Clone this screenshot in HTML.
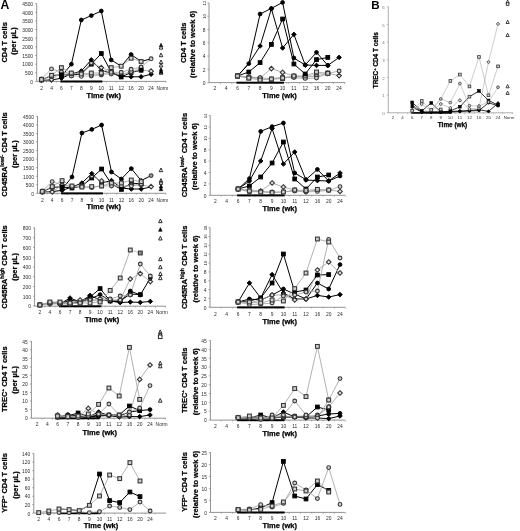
<!DOCTYPE html>
<html lang="en"><head><meta charset="utf-8"><title>Figure</title>
<style>
html,body{margin:0;padding:0;background:#fff;}
body{width:520px;height:531px;overflow:hidden;font-family:"Liberation Sans", Arial, Helvetica, sans-serif;}
svg{display:block;}
</style></head>
<body>
<svg width="520" height="531" viewBox="0 0 520 531" font-family='"Liberation Sans", Arial, Helvetica, sans-serif'>
<rect width="520" height="531" fill="#fff"/>
<text x="0.6" y="9.4" font-size="12.2" font-weight="bold" fill="#000">A</text>
<text x="371.2" y="9.4" font-size="11.6" font-weight="bold" fill="#000">B</text>
<g>
<path d="M36.7 3.4V81.4H166" fill="none" stroke="#777" stroke-width="0.8"/>
<path d="M35.1 81.5H36.7" stroke="#777" stroke-width="0.6"/>
<text x="33.1" y="83.7" font-size="4.9" text-anchor="end" fill="#2a2a2a">0</text>
<path d="M35.1 72.8H36.7" stroke="#777" stroke-width="0.6"/>
<text x="33.1" y="75.1" font-size="4.9" text-anchor="end" fill="#2a2a2a">500</text>
<path d="M35.1 64.2H36.7" stroke="#777" stroke-width="0.6"/>
<text x="33.1" y="66.4" font-size="4.9" text-anchor="end" fill="#2a2a2a">1000</text>
<path d="M35.1 55.5H36.7" stroke="#777" stroke-width="0.6"/>
<text x="33.1" y="57.8" font-size="4.9" text-anchor="end" fill="#2a2a2a">1500</text>
<path d="M35.1 46.9H36.7" stroke="#777" stroke-width="0.6"/>
<text x="33.1" y="49.1" font-size="4.9" text-anchor="end" fill="#2a2a2a">2000</text>
<path d="M35.1 38.2H36.7" stroke="#777" stroke-width="0.6"/>
<text x="33.1" y="40.5" font-size="4.9" text-anchor="end" fill="#2a2a2a">2500</text>
<path d="M35.1 29.5H36.7" stroke="#777" stroke-width="0.6"/>
<text x="33.1" y="31.8" font-size="4.9" text-anchor="end" fill="#2a2a2a">3000</text>
<path d="M35.1 20.9H36.7" stroke="#777" stroke-width="0.6"/>
<text x="33.1" y="23.2" font-size="4.9" text-anchor="end" fill="#2a2a2a">3500</text>
<path d="M35.1 12.2H36.7" stroke="#777" stroke-width="0.6"/>
<text x="33.1" y="14.5" font-size="4.9" text-anchor="end" fill="#2a2a2a">4000</text>
<path d="M35.1 3.6H36.7" stroke="#777" stroke-width="0.6"/>
<text x="33.1" y="5.9" font-size="4.9" text-anchor="end" fill="#2a2a2a">4500</text>
<path d="M46.5 81.4v1.4" stroke="#777" stroke-width="0.5"/>
<text x="41.5" y="90.0" font-size="4.9" text-anchor="middle" fill="#2a2a2a">2</text>
<path d="M56.4 81.4v1.4" stroke="#777" stroke-width="0.5"/>
<text x="51.5" y="90.0" font-size="4.9" text-anchor="middle" fill="#2a2a2a">4</text>
<path d="M66.4 81.4v1.4" stroke="#777" stroke-width="0.5"/>
<text x="61.4" y="90.0" font-size="4.9" text-anchor="middle" fill="#2a2a2a">6</text>
<path d="M76.4 81.4v1.4" stroke="#777" stroke-width="0.5"/>
<text x="71.4" y="90.0" font-size="4.9" text-anchor="middle" fill="#2a2a2a">7</text>
<path d="M86.3 81.4v1.4" stroke="#777" stroke-width="0.5"/>
<text x="81.3" y="90.0" font-size="4.9" text-anchor="middle" fill="#2a2a2a">8</text>
<path d="M96.3 81.4v1.4" stroke="#777" stroke-width="0.5"/>
<text x="91.3" y="90.0" font-size="4.9" text-anchor="middle" fill="#2a2a2a">9</text>
<path d="M106.2 81.4v1.4" stroke="#777" stroke-width="0.5"/>
<text x="101.3" y="90.0" font-size="4.9" text-anchor="middle" fill="#2a2a2a">10</text>
<path d="M116.2 81.4v1.4" stroke="#777" stroke-width="0.5"/>
<text x="111.2" y="90.0" font-size="4.9" text-anchor="middle" fill="#2a2a2a">11</text>
<path d="M126.2 81.4v1.4" stroke="#777" stroke-width="0.5"/>
<text x="121.2" y="90.0" font-size="4.9" text-anchor="middle" fill="#2a2a2a">12</text>
<path d="M136.1 81.4v1.4" stroke="#777" stroke-width="0.5"/>
<text x="131.1" y="90.0" font-size="4.9" text-anchor="middle" fill="#2a2a2a">16</text>
<path d="M146.1 81.4v1.4" stroke="#777" stroke-width="0.5"/>
<text x="141.1" y="90.0" font-size="4.9" text-anchor="middle" fill="#2a2a2a">20</text>
<path d="M156.0 81.4v1.4" stroke="#777" stroke-width="0.5"/>
<text x="151.1" y="90.0" font-size="4.9" text-anchor="middle" fill="#2a2a2a">24</text>
<path d="M166.0 81.4v1.4" stroke="#777" stroke-width="0.5"/>
<text x="162.4" y="90.0" font-size="4.9" text-anchor="middle" fill="#2a2a2a">Norm</text>
<rect x="60.4" y="80.5" width="42.0" height="2.0" fill="#000"/>
<path d="M41.5 80.3L51.5 80.0L61.4 78.2L71.4 74.0L81.3 71.0L91.3 59.9L101.3 70.6L111.2 73.0L121.2 76.5L131.1 76.8L141.1 76.8L151.1 74.2" fill="none" stroke="#000" stroke-width="1.00" stroke-linejoin="round"/>
<path d="M41.5 80.0L51.5 75.5L61.4 74.8L71.4 75.0L81.3 74.0L91.3 64.2L101.3 53.5L111.2 72.0L121.2 77.0L131.1 72.5L141.1 70.2" fill="none" stroke="#000" stroke-width="1.00" stroke-linejoin="round"/>
<path d="M61.4 76.5L71.4 64.2L81.3 20.0L91.3 15.6L101.3 11.0L111.2 59.9L121.2 66.2L131.1 54.5L141.1 61.5L151.1 58.8" fill="none" stroke="#000" stroke-width="1.00" stroke-linejoin="round"/>
<path d="M41.5 80.0L51.5 77.0L61.4 74.0L71.4 76.0L81.3 76.3L91.3 76.0L101.3 75.0L111.2 74.0L121.2 74.0L131.1 72.0L141.1 68.0" fill="none" stroke="#a4a4a4" stroke-width="0.60" stroke-linejoin="round"/>
<path d="M41.5 80.0L51.5 79.7L61.4 72.3L71.4 73.6L81.3 73.0L91.3 62.9L101.3 67.6L111.2 71.0L121.2 75.5L131.1 71.6L141.1 70.0L151.1 71.2" fill="none" stroke="#a4a4a4" stroke-width="0.85" stroke-linejoin="round"/>
<path d="M41.5 79.0L51.5 68.9L61.4 72.0L71.4 73.6L81.3 73.6L91.3 75.3L101.3 74.0L111.2 72.3L121.2 72.3L131.1 69.3L141.1 67.0L151.1 58.8" fill="none" stroke="#a4a4a4" stroke-width="0.85" stroke-linejoin="round"/>
<path d="M41.5 79.5L51.5 75.3L61.4 67.6L71.4 73.0L81.3 74.0L91.3 73.0L101.3 73.0L111.2 67.6L121.2 66.2L131.1 58.2L141.1 61.5" fill="none" stroke="#a4a4a4" stroke-width="0.85" stroke-linejoin="round"/>
<path d="M41.5 78.0L43.8 80.3L41.5 82.6L39.2 80.3Z" fill="#000" stroke="#000" stroke-width="0.9"/>
<path d="M51.5 77.7L53.8 80.0L51.5 82.3L49.2 80.0Z" fill="#000" stroke="#000" stroke-width="0.9"/>
<path d="M71.4 71.7L73.7 74.0L71.4 76.3L69.1 74.0Z" fill="#000" stroke="#000" stroke-width="0.9"/>
<path d="M81.3 68.7L83.6 71.0L81.3 73.3L79.0 71.0Z" fill="#000" stroke="#000" stroke-width="0.9"/>
<path d="M101.3 68.3L103.6 70.6L101.3 72.9L99.0 70.6Z" fill="#000" stroke="#000" stroke-width="0.9"/>
<path d="M111.2 70.7L113.5 73.0L111.2 75.3L108.9 73.0Z" fill="#000" stroke="#000" stroke-width="0.9"/>
<path d="M121.2 74.2L123.5 76.5L121.2 78.8L118.9 76.5Z" fill="#000" stroke="#000" stroke-width="0.9"/>
<path d="M131.1 74.5L133.4 76.8L131.1 79.1L128.8 76.8Z" fill="#000" stroke="#000" stroke-width="0.9"/>
<path d="M141.1 74.5L143.4 76.8L141.1 79.1L138.8 76.8Z" fill="#000" stroke="#000" stroke-width="0.9"/>
<path d="M151.1 71.9L153.4 74.2L151.1 76.5L148.8 74.2Z" fill="#000" stroke="#000" stroke-width="0.9"/>
<rect x="39.6" y="78.1" width="3.8" height="3.8" fill="#000" stroke="#000" stroke-width="0.9"/>
<rect x="49.6" y="73.6" width="3.8" height="3.8" fill="#000" stroke="#000" stroke-width="0.9"/>
<rect x="69.5" y="73.1" width="3.8" height="3.8" fill="#000" stroke="#000" stroke-width="0.9"/>
<rect x="79.4" y="72.1" width="3.8" height="3.8" fill="#000" stroke="#000" stroke-width="0.9"/>
<rect x="89.4" y="62.3" width="3.8" height="3.8" fill="#000" stroke="#000" stroke-width="0.9"/>
<rect x="99.4" y="51.6" width="3.8" height="3.8" fill="#000" stroke="#000" stroke-width="0.9"/>
<rect x="109.3" y="70.1" width="3.8" height="3.8" fill="#000" stroke="#000" stroke-width="0.9"/>
<rect x="129.2" y="70.6" width="3.8" height="3.8" fill="#000" stroke="#000" stroke-width="0.9"/>
<circle cx="61.4" cy="76.5" r="1.9" fill="#000" stroke="#000" stroke-width="0.9"/>
<circle cx="71.4" cy="64.2" r="1.9" fill="#000" stroke="#000" stroke-width="0.9"/>
<circle cx="81.3" cy="20.0" r="1.9" fill="#000" stroke="#000" stroke-width="0.9"/>
<circle cx="91.3" cy="15.6" r="1.9" fill="#000" stroke="#000" stroke-width="0.9"/>
<circle cx="101.3" cy="11.0" r="1.9" fill="#000" stroke="#000" stroke-width="0.9"/>
<circle cx="111.2" cy="59.9" r="1.9" fill="#000" stroke="#000" stroke-width="0.9"/>
<circle cx="131.1" cy="54.5" r="1.9" fill="#000" stroke="#000" stroke-width="0.9"/>
<circle cx="41.5" cy="80.0" r="1.9" fill="#f4f4f4" stroke="#383838" stroke-width="1.1"/>
<circle cx="51.5" cy="77.0" r="1.9" fill="#f4f4f4" stroke="#383838" stroke-width="1.1"/>
<circle cx="61.4" cy="74.0" r="1.9" fill="#f4f4f4" stroke="#383838" stroke-width="1.1"/>
<circle cx="71.4" cy="76.0" r="1.9" fill="#f4f4f4" stroke="#383838" stroke-width="1.1"/>
<circle cx="81.3" cy="76.3" r="1.9" fill="#f4f4f4" stroke="#383838" stroke-width="1.1"/>
<circle cx="91.3" cy="76.0" r="1.9" fill="#f4f4f4" stroke="#383838" stroke-width="1.1"/>
<circle cx="101.3" cy="75.0" r="1.9" fill="#f4f4f4" stroke="#383838" stroke-width="1.1"/>
<circle cx="111.2" cy="74.0" r="1.9" fill="#f4f4f4" stroke="#383838" stroke-width="1.1"/>
<circle cx="121.2" cy="74.0" r="1.9" fill="#f4f4f4" stroke="#383838" stroke-width="1.1"/>
<circle cx="131.1" cy="72.0" r="1.9" fill="#f4f4f4" stroke="#383838" stroke-width="1.1"/>
<circle cx="141.1" cy="68.0" r="1.9" fill="#f4f4f4" stroke="#383838" stroke-width="1.1"/>
<path d="M41.5 77.7L43.8 80.0L41.5 82.3L39.2 80.0Z" fill="#e8e8e8" stroke="#383838" stroke-width="1.1"/>
<path d="M51.5 77.4L53.8 79.7L51.5 82.0L49.2 79.7Z" fill="#e8e8e8" stroke="#383838" stroke-width="1.1"/>
<path d="M61.4 70.0L63.7 72.3L61.4 74.6L59.1 72.3Z" fill="#e8e8e8" stroke="#383838" stroke-width="1.1"/>
<path d="M71.4 71.3L73.7 73.6L71.4 75.9L69.1 73.6Z" fill="#e8e8e8" stroke="#383838" stroke-width="1.1"/>
<path d="M81.3 70.7L83.6 73.0L81.3 75.3L79.0 73.0Z" fill="#e8e8e8" stroke="#383838" stroke-width="1.1"/>
<path d="M91.3 60.6L93.6 62.9L91.3 65.2L89.0 62.9Z" fill="#e8e8e8" stroke="#383838" stroke-width="1.1"/>
<path d="M101.3 65.3L103.6 67.6L101.3 69.9L99.0 67.6Z" fill="#e8e8e8" stroke="#383838" stroke-width="1.1"/>
<path d="M111.2 68.7L113.5 71.0L111.2 73.3L108.9 71.0Z" fill="#e8e8e8" stroke="#383838" stroke-width="1.1"/>
<path d="M121.2 73.2L123.5 75.5L121.2 77.8L118.9 75.5Z" fill="#e8e8e8" stroke="#383838" stroke-width="1.1"/>
<path d="M131.1 69.3L133.4 71.6L131.1 73.9L128.8 71.6Z" fill="#e8e8e8" stroke="#383838" stroke-width="1.1"/>
<path d="M141.1 67.7L143.4 70.0L141.1 72.3L138.8 70.0Z" fill="#e8e8e8" stroke="#383838" stroke-width="1.1"/>
<path d="M151.1 68.9L153.4 71.2L151.1 73.5L148.8 71.2Z" fill="#e8e8e8" stroke="#383838" stroke-width="1.1"/>
<circle cx="41.5" cy="79.0" r="1.9" fill="#d0d0d0" stroke="#383838" stroke-width="1.1"/>
<circle cx="51.5" cy="68.9" r="1.9" fill="#d0d0d0" stroke="#383838" stroke-width="1.1"/>
<circle cx="61.4" cy="72.0" r="1.9" fill="#d0d0d0" stroke="#383838" stroke-width="1.1"/>
<circle cx="71.4" cy="73.6" r="1.9" fill="#d0d0d0" stroke="#383838" stroke-width="1.1"/>
<circle cx="81.3" cy="73.6" r="1.9" fill="#d0d0d0" stroke="#383838" stroke-width="1.1"/>
<circle cx="91.3" cy="75.3" r="1.9" fill="#d0d0d0" stroke="#383838" stroke-width="1.1"/>
<circle cx="101.3" cy="74.0" r="1.9" fill="#d0d0d0" stroke="#383838" stroke-width="1.1"/>
<circle cx="111.2" cy="72.3" r="1.9" fill="#d0d0d0" stroke="#383838" stroke-width="1.1"/>
<circle cx="121.2" cy="72.3" r="1.9" fill="#d0d0d0" stroke="#383838" stroke-width="1.1"/>
<circle cx="131.1" cy="69.3" r="1.9" fill="#d0d0d0" stroke="#383838" stroke-width="1.1"/>
<circle cx="141.1" cy="67.0" r="1.9" fill="#d0d0d0" stroke="#383838" stroke-width="1.1"/>
<circle cx="151.1" cy="58.8" r="1.9" fill="#d0d0d0" stroke="#383838" stroke-width="1.1"/>
<rect x="39.6" y="77.6" width="3.8" height="3.8" fill="#d0d0d0" stroke="#383838" stroke-width="1.1"/>
<rect x="49.6" y="73.4" width="3.8" height="3.8" fill="#d0d0d0" stroke="#383838" stroke-width="1.1"/>
<rect x="59.5" y="65.7" width="3.8" height="3.8" fill="#d0d0d0" stroke="#383838" stroke-width="1.1"/>
<rect x="69.5" y="71.1" width="3.8" height="3.8" fill="#d0d0d0" stroke="#383838" stroke-width="1.1"/>
<rect x="79.4" y="72.1" width="3.8" height="3.8" fill="#d0d0d0" stroke="#383838" stroke-width="1.1"/>
<rect x="89.4" y="71.1" width="3.8" height="3.8" fill="#d0d0d0" stroke="#383838" stroke-width="1.1"/>
<rect x="99.4" y="71.1" width="3.8" height="3.8" fill="#d0d0d0" stroke="#383838" stroke-width="1.1"/>
<rect x="109.3" y="65.7" width="3.8" height="3.8" fill="#d0d0d0" stroke="#383838" stroke-width="1.1"/>
<rect x="119.3" y="64.3" width="3.8" height="3.8" fill="#d0d0d0" stroke="#383838" stroke-width="1.1"/>
<rect x="129.2" y="56.3" width="3.8" height="3.8" fill="#d0d0d0" stroke="#383838" stroke-width="1.1"/>
<rect x="139.2" y="59.6" width="3.8" height="3.8" fill="#d0d0d0" stroke="#383838" stroke-width="1.1"/>
<path d="M61.4 75.9L63.7 78.2L61.4 80.5L59.1 78.2Z" fill="#000" stroke="#000" stroke-width="0.9"/>
<path d="M91.3 57.6L93.6 59.9L91.3 62.2L89.0 59.9Z" fill="#000" stroke="#000" stroke-width="0.9"/>
<rect x="59.5" y="72.9" width="3.8" height="3.8" fill="#000" stroke="#000" stroke-width="0.9"/>
<rect x="119.3" y="75.1" width="3.8" height="3.8" fill="#000" stroke="#000" stroke-width="0.9"/>
<rect x="139.2" y="68.3" width="3.8" height="3.8" fill="#000" stroke="#000" stroke-width="0.9"/>
<path d="M161.0 43.2L162.8 46.9L159.3 46.9Z" fill="#000" stroke="#000" stroke-width="0.6" stroke-linejoin="round"/>
<path d="M161.0 45.4L162.8 49.1L159.3 49.1Z" fill="#fff" stroke="#222" stroke-width="0.95" stroke-linejoin="round"/>
<path d="M161.0 53.0L162.8 56.7L159.3 56.7Z" fill="#fff" stroke="#222" stroke-width="0.95" stroke-linejoin="round"/>
<path d="M161.0 60.0L162.8 63.7L159.3 63.7Z" fill="#fff" stroke="#222" stroke-width="0.95" stroke-linejoin="round"/>
<path d="M161.0 63.2L162.8 66.9L159.3 66.9Z" fill="#fff" stroke="#222" stroke-width="0.95" stroke-linejoin="round"/>
<path d="M161.0 67.6L162.8 71.3L159.3 71.3Z" fill="#000" stroke="#000" stroke-width="0.6" stroke-linejoin="round"/>
<path d="M161.0 70.6L162.8 74.3L159.3 74.3Z" fill="#fff" stroke="#222" stroke-width="0.95" stroke-linejoin="round"/>
<path d="M161.0 69.6L162.8 73.3L159.3 73.3Z" fill="#000" stroke="#000" stroke-width="0.6" stroke-linejoin="round"/>
<text x="103.7" y="97.9" font-size="7.5" font-weight="bold" text-anchor="middle" fill="#000" stroke="#000" stroke-width="0.25">Time (wk)</text>
<text transform="translate(6.6 42.4) rotate(-90)" font-size="7.5" font-weight="bold" text-anchor="middle" fill="#000" stroke="#000" stroke-width="0.25">CD4 T cells</text>
<text transform="translate(15.8 41) rotate(-90)" font-size="7.5" font-weight="bold" text-anchor="middle" fill="#000" stroke="#000" stroke-width="0.25">(per µL)</text>
</g>
<g>
<path d="M209 2.8V82.6H345.2" fill="none" stroke="#777" stroke-width="0.8"/>
<path d="M207.4 82.7H209" stroke="#777" stroke-width="0.6"/>
<text x="205.4" y="85.0" font-size="4.9" text-anchor="end" fill="#2a2a2a">0</text>
<path d="M207.4 69.4H209" stroke="#777" stroke-width="0.6"/>
<text x="205.4" y="71.7" font-size="4.9" text-anchor="end" fill="#2a2a2a">2</text>
<path d="M207.4 56.1H209" stroke="#777" stroke-width="0.6"/>
<text x="205.4" y="58.4" font-size="4.9" text-anchor="end" fill="#2a2a2a">4</text>
<path d="M207.4 42.8H209" stroke="#777" stroke-width="0.6"/>
<text x="205.4" y="45.1" font-size="4.9" text-anchor="end" fill="#2a2a2a">6</text>
<path d="M207.4 29.5H209" stroke="#777" stroke-width="0.6"/>
<text x="205.4" y="31.8" font-size="4.9" text-anchor="end" fill="#2a2a2a">8</text>
<path d="M207.4 16.2H209" stroke="#777" stroke-width="0.6"/>
<text transform="translate(205.6 16.4) rotate(-90)" font-size="4.3" text-anchor="middle" fill="#2a2a2a">10</text>
<path d="M207.4 2.9H209" stroke="#777" stroke-width="0.6"/>
<text transform="translate(205.6 3.1) rotate(-90)" font-size="4.3" text-anchor="middle" fill="#2a2a2a">12</text>
<path d="M220.5 82.6v1.4" stroke="#777" stroke-width="0.5"/>
<text x="214.9" y="89.8" font-size="4.9" text-anchor="middle" fill="#2a2a2a">2</text>
<path d="M231.8 82.6v1.4" stroke="#777" stroke-width="0.5"/>
<text x="226.2" y="89.8" font-size="4.9" text-anchor="middle" fill="#2a2a2a">4</text>
<path d="M243.1 82.6v1.4" stroke="#777" stroke-width="0.5"/>
<text x="237.5" y="89.8" font-size="4.9" text-anchor="middle" fill="#2a2a2a">6</text>
<path d="M254.4 82.6v1.4" stroke="#777" stroke-width="0.5"/>
<text x="248.8" y="89.8" font-size="4.9" text-anchor="middle" fill="#2a2a2a">7</text>
<path d="M265.7 82.6v1.4" stroke="#777" stroke-width="0.5"/>
<text x="260.1" y="89.8" font-size="4.9" text-anchor="middle" fill="#2a2a2a">8</text>
<path d="M277.0 82.6v1.4" stroke="#777" stroke-width="0.5"/>
<text x="271.4" y="89.8" font-size="4.9" text-anchor="middle" fill="#2a2a2a">9</text>
<path d="M288.3 82.6v1.4" stroke="#777" stroke-width="0.5"/>
<text x="282.6" y="89.8" font-size="4.9" text-anchor="middle" fill="#2a2a2a">10</text>
<path d="M299.6 82.6v1.4" stroke="#777" stroke-width="0.5"/>
<text x="293.9" y="89.8" font-size="4.9" text-anchor="middle" fill="#2a2a2a">11</text>
<path d="M310.9 82.6v1.4" stroke="#777" stroke-width="0.5"/>
<text x="305.2" y="89.8" font-size="4.9" text-anchor="middle" fill="#2a2a2a">12</text>
<path d="M322.2 82.6v1.4" stroke="#777" stroke-width="0.5"/>
<text x="316.5" y="89.8" font-size="4.9" text-anchor="middle" fill="#2a2a2a">16</text>
<path d="M333.4 82.6v1.4" stroke="#777" stroke-width="0.5"/>
<text x="327.8" y="89.8" font-size="4.9" text-anchor="middle" fill="#2a2a2a">20</text>
<path d="M344.7 82.6v1.4" stroke="#777" stroke-width="0.5"/>
<text x="339.1" y="89.8" font-size="4.9" text-anchor="middle" fill="#2a2a2a">24</text>
<rect x="236.5" y="81.7" width="47.4" height="2.0" fill="#000"/>
<path d="M237.5 76.0L248.8 63.6L260.1 46.0L271.4 8.8L282.6 48.0L293.9 34.4L305.2 65.0L316.5 65.4L327.8 65.4L339.1 57.4" fill="none" stroke="#000" stroke-width="1.00" stroke-linejoin="round"/>
<path d="M237.5 76.0L248.8 72.0L260.1 62.6L271.4 44.4L282.6 19.0L293.9 64.0L305.2 74.0L316.5 59.6L327.8 57.4" fill="none" stroke="#000" stroke-width="1.00" stroke-linejoin="round"/>
<path d="M237.5 76.0L248.8 63.6L260.1 14.0L271.4 8.4L282.6 2.4L293.9 58.0L305.2 65.0L316.5 52.4L327.8 65.4" fill="none" stroke="#000" stroke-width="1.00" stroke-linejoin="round"/>
<path d="M237.5 76.0L248.8 78.0L260.1 79.0L271.4 79.5L282.6 78.5L293.9 76.5L305.2 77.0L316.5 73.5L327.8 73.0" fill="none" stroke="#a4a4a4" stroke-width="0.60" stroke-linejoin="round"/>
<path d="M237.5 76.0L248.8 77.0L260.1 78.0L271.4 68.6L282.6 72.4L293.9 76.0L305.2 77.0L316.5 76.0L327.8 73.4L339.1 75.6" fill="none" stroke="#a4a4a4" stroke-width="0.85" stroke-linejoin="round"/>
<path d="M237.5 76.0L248.8 77.0L260.1 77.6L271.4 79.0L282.6 77.0L293.9 77.6L305.2 78.4L316.5 78.0L327.8 73.4L339.1 71.0" fill="none" stroke="#a4a4a4" stroke-width="0.85" stroke-linejoin="round"/>
<path d="M237.5 76.0L248.8 78.0L260.1 80.0L271.4 79.0L282.6 78.0L293.9 76.0L305.2 76.0L316.5 72.0L327.8 73.4" fill="none" stroke="#a4a4a4" stroke-width="0.85" stroke-linejoin="round"/>
<path d="M237.5 73.7L239.8 76.0L237.5 78.3L235.2 76.0Z" fill="#000" stroke="#000" stroke-width="0.9"/>
<path d="M260.1 43.7L262.4 46.0L260.1 48.3L257.8 46.0Z" fill="#000" stroke="#000" stroke-width="0.9"/>
<path d="M271.4 6.5L273.7 8.8L271.4 11.1L269.1 8.8Z" fill="#000" stroke="#000" stroke-width="0.9"/>
<path d="M282.6 45.7L284.9 48.0L282.6 50.3L280.3 48.0Z" fill="#000" stroke="#000" stroke-width="0.9"/>
<path d="M293.9 32.1L296.2 34.4L293.9 36.7L291.6 34.4Z" fill="#000" stroke="#000" stroke-width="0.9"/>
<path d="M305.2 62.7L307.5 65.0L305.2 67.3L302.9 65.0Z" fill="#000" stroke="#000" stroke-width="0.9"/>
<path d="M316.5 63.1L318.8 65.4L316.5 67.7L314.2 65.4Z" fill="#000" stroke="#000" stroke-width="0.9"/>
<path d="M327.8 63.1L330.1 65.4L327.8 67.7L325.5 65.4Z" fill="#000" stroke="#000" stroke-width="0.9"/>
<path d="M339.1 55.1L341.4 57.4L339.1 59.7L336.8 57.4Z" fill="#000" stroke="#000" stroke-width="0.9"/>
<rect x="235.6" y="74.1" width="3.8" height="3.8" fill="#000" stroke="#000" stroke-width="0.9"/>
<rect x="246.9" y="70.1" width="3.8" height="3.8" fill="#000" stroke="#000" stroke-width="0.9"/>
<rect x="258.2" y="60.7" width="3.8" height="3.8" fill="#000" stroke="#000" stroke-width="0.9"/>
<rect x="269.5" y="42.5" width="3.8" height="3.8" fill="#000" stroke="#000" stroke-width="0.9"/>
<rect x="280.7" y="17.1" width="3.8" height="3.8" fill="#000" stroke="#000" stroke-width="0.9"/>
<rect x="292.0" y="62.1" width="3.8" height="3.8" fill="#000" stroke="#000" stroke-width="0.9"/>
<rect x="314.6" y="57.7" width="3.8" height="3.8" fill="#000" stroke="#000" stroke-width="0.9"/>
<rect x="325.9" y="55.5" width="3.8" height="3.8" fill="#000" stroke="#000" stroke-width="0.9"/>
<circle cx="237.5" cy="76.0" r="1.9" fill="#000" stroke="#000" stroke-width="0.9"/>
<circle cx="248.8" cy="63.6" r="1.9" fill="#000" stroke="#000" stroke-width="0.9"/>
<circle cx="260.1" cy="14.0" r="1.9" fill="#000" stroke="#000" stroke-width="0.9"/>
<circle cx="271.4" cy="8.4" r="1.9" fill="#000" stroke="#000" stroke-width="0.9"/>
<circle cx="282.6" cy="2.4" r="1.9" fill="#000" stroke="#000" stroke-width="0.9"/>
<circle cx="293.9" cy="58.0" r="1.9" fill="#000" stroke="#000" stroke-width="0.9"/>
<circle cx="305.2" cy="65.0" r="1.9" fill="#000" stroke="#000" stroke-width="0.9"/>
<circle cx="316.5" cy="52.4" r="1.9" fill="#000" stroke="#000" stroke-width="0.9"/>
<circle cx="327.8" cy="65.4" r="1.9" fill="#000" stroke="#000" stroke-width="0.9"/>
<rect x="235.6" y="74.1" width="3.8" height="3.8" fill="#f4f4f4" stroke="#383838" stroke-width="1.1"/>
<rect x="246.9" y="76.1" width="3.8" height="3.8" fill="#f4f4f4" stroke="#383838" stroke-width="1.1"/>
<rect x="258.2" y="77.1" width="3.8" height="3.8" fill="#f4f4f4" stroke="#383838" stroke-width="1.1"/>
<rect x="269.5" y="77.6" width="3.8" height="3.8" fill="#f4f4f4" stroke="#383838" stroke-width="1.1"/>
<rect x="280.7" y="76.6" width="3.8" height="3.8" fill="#f4f4f4" stroke="#383838" stroke-width="1.1"/>
<rect x="292.0" y="74.6" width="3.8" height="3.8" fill="#f4f4f4" stroke="#383838" stroke-width="1.1"/>
<rect x="303.3" y="75.1" width="3.8" height="3.8" fill="#f4f4f4" stroke="#383838" stroke-width="1.1"/>
<rect x="314.6" y="71.6" width="3.8" height="3.8" fill="#f4f4f4" stroke="#383838" stroke-width="1.1"/>
<rect x="325.9" y="71.1" width="3.8" height="3.8" fill="#f4f4f4" stroke="#383838" stroke-width="1.1"/>
<path d="M237.5 73.7L239.8 76.0L237.5 78.3L235.2 76.0Z" fill="#e8e8e8" stroke="#383838" stroke-width="1.1"/>
<path d="M248.8 74.7L251.1 77.0L248.8 79.3L246.5 77.0Z" fill="#e8e8e8" stroke="#383838" stroke-width="1.1"/>
<path d="M260.1 75.7L262.4 78.0L260.1 80.3L257.8 78.0Z" fill="#e8e8e8" stroke="#383838" stroke-width="1.1"/>
<path d="M271.4 66.3L273.7 68.6L271.4 70.9L269.1 68.6Z" fill="#e8e8e8" stroke="#383838" stroke-width="1.1"/>
<path d="M282.6 70.1L284.9 72.4L282.6 74.7L280.3 72.4Z" fill="#e8e8e8" stroke="#383838" stroke-width="1.1"/>
<path d="M293.9 73.7L296.2 76.0L293.9 78.3L291.6 76.0Z" fill="#e8e8e8" stroke="#383838" stroke-width="1.1"/>
<path d="M305.2 74.7L307.5 77.0L305.2 79.3L302.9 77.0Z" fill="#e8e8e8" stroke="#383838" stroke-width="1.1"/>
<path d="M316.5 73.7L318.8 76.0L316.5 78.3L314.2 76.0Z" fill="#e8e8e8" stroke="#383838" stroke-width="1.1"/>
<path d="M327.8 71.1L330.1 73.4L327.8 75.7L325.5 73.4Z" fill="#e8e8e8" stroke="#383838" stroke-width="1.1"/>
<path d="M339.1 73.3L341.4 75.6L339.1 77.9L336.8 75.6Z" fill="#e8e8e8" stroke="#383838" stroke-width="1.1"/>
<circle cx="237.5" cy="76.0" r="1.9" fill="#d0d0d0" stroke="#383838" stroke-width="1.1"/>
<circle cx="248.8" cy="77.0" r="1.9" fill="#d0d0d0" stroke="#383838" stroke-width="1.1"/>
<circle cx="260.1" cy="77.6" r="1.9" fill="#d0d0d0" stroke="#383838" stroke-width="1.1"/>
<circle cx="271.4" cy="79.0" r="1.9" fill="#d0d0d0" stroke="#383838" stroke-width="1.1"/>
<circle cx="282.6" cy="77.0" r="1.9" fill="#d0d0d0" stroke="#383838" stroke-width="1.1"/>
<circle cx="293.9" cy="77.6" r="1.9" fill="#d0d0d0" stroke="#383838" stroke-width="1.1"/>
<circle cx="305.2" cy="78.4" r="1.9" fill="#d0d0d0" stroke="#383838" stroke-width="1.1"/>
<circle cx="316.5" cy="78.0" r="1.9" fill="#d0d0d0" stroke="#383838" stroke-width="1.1"/>
<circle cx="327.8" cy="73.4" r="1.9" fill="#d0d0d0" stroke="#383838" stroke-width="1.1"/>
<circle cx="339.1" cy="71.0" r="1.9" fill="#d0d0d0" stroke="#383838" stroke-width="1.1"/>
<rect x="235.6" y="74.1" width="3.8" height="3.8" fill="#d0d0d0" stroke="#383838" stroke-width="1.1"/>
<rect x="246.9" y="76.1" width="3.8" height="3.8" fill="#d0d0d0" stroke="#383838" stroke-width="1.1"/>
<rect x="258.2" y="78.1" width="3.8" height="3.8" fill="#d0d0d0" stroke="#383838" stroke-width="1.1"/>
<rect x="269.5" y="77.1" width="3.8" height="3.8" fill="#d0d0d0" stroke="#383838" stroke-width="1.1"/>
<rect x="280.7" y="76.1" width="3.8" height="3.8" fill="#d0d0d0" stroke="#383838" stroke-width="1.1"/>
<rect x="292.0" y="74.1" width="3.8" height="3.8" fill="#d0d0d0" stroke="#383838" stroke-width="1.1"/>
<rect x="303.3" y="74.1" width="3.8" height="3.8" fill="#d0d0d0" stroke="#383838" stroke-width="1.1"/>
<rect x="314.6" y="70.1" width="3.8" height="3.8" fill="#d0d0d0" stroke="#383838" stroke-width="1.1"/>
<rect x="325.9" y="71.5" width="3.8" height="3.8" fill="#d0d0d0" stroke="#383838" stroke-width="1.1"/>
<rect x="303.3" y="72.1" width="3.8" height="3.8" fill="#000" stroke="#000" stroke-width="0.9"/>
<text x="279.6" y="97.8" font-size="7.5" font-weight="bold" text-anchor="middle" fill="#000" stroke="#000" stroke-width="0.25">Time (wk)</text>
<text transform="translate(186 42.7) rotate(-90)" font-size="7.5" font-weight="bold" text-anchor="middle" fill="#000" stroke="#000" stroke-width="0.25">CD4 T cells</text>
<text transform="translate(195 44.4) rotate(-90)" font-size="7.5" font-weight="bold" text-anchor="middle" fill="#000" stroke="#000" stroke-width="0.25">(relative to week 6)</text>
</g>
<g>
<path d="M37.5 116V193.3H166" fill="none" stroke="#777" stroke-width="0.8"/>
<path d="M35.9 193.4H37.5" stroke="#777" stroke-width="0.6"/>
<text x="33.9" y="195.7" font-size="4.9" text-anchor="end" fill="#2a2a2a">0</text>
<path d="M35.9 184.8H37.5" stroke="#777" stroke-width="0.6"/>
<text x="33.9" y="187.1" font-size="4.9" text-anchor="end" fill="#2a2a2a">500</text>
<path d="M35.9 176.3H37.5" stroke="#777" stroke-width="0.6"/>
<text x="33.9" y="178.5" font-size="4.9" text-anchor="end" fill="#2a2a2a">1000</text>
<path d="M35.9 167.7H37.5" stroke="#777" stroke-width="0.6"/>
<text x="33.9" y="170.0" font-size="4.9" text-anchor="end" fill="#2a2a2a">1500</text>
<path d="M35.9 159.1H37.5" stroke="#777" stroke-width="0.6"/>
<text x="33.9" y="161.4" font-size="4.9" text-anchor="end" fill="#2a2a2a">2000</text>
<path d="M35.9 150.6H37.5" stroke="#777" stroke-width="0.6"/>
<text x="33.9" y="152.8" font-size="4.9" text-anchor="end" fill="#2a2a2a">2500</text>
<path d="M35.9 142.0H37.5" stroke="#777" stroke-width="0.6"/>
<text x="33.9" y="144.3" font-size="4.9" text-anchor="end" fill="#2a2a2a">3000</text>
<path d="M35.9 133.4H37.5" stroke="#777" stroke-width="0.6"/>
<text x="33.9" y="135.7" font-size="4.9" text-anchor="end" fill="#2a2a2a">3500</text>
<path d="M35.9 124.9H37.5" stroke="#777" stroke-width="0.6"/>
<text x="33.9" y="127.1" font-size="4.9" text-anchor="end" fill="#2a2a2a">4000</text>
<path d="M35.9 116.3H37.5" stroke="#777" stroke-width="0.6"/>
<text x="33.9" y="118.6" font-size="4.9" text-anchor="end" fill="#2a2a2a">4500</text>
<path d="M47.2 193.3v1.4" stroke="#777" stroke-width="0.5"/>
<text x="42.3" y="201.6" font-size="4.9" text-anchor="middle" fill="#2a2a2a">2</text>
<path d="M57.1 193.3v1.4" stroke="#777" stroke-width="0.5"/>
<text x="52.2" y="201.6" font-size="4.9" text-anchor="middle" fill="#2a2a2a">4</text>
<path d="M67.0 193.3v1.4" stroke="#777" stroke-width="0.5"/>
<text x="62.1" y="201.6" font-size="4.9" text-anchor="middle" fill="#2a2a2a">6</text>
<path d="M76.9 193.3v1.4" stroke="#777" stroke-width="0.5"/>
<text x="72.0" y="201.6" font-size="4.9" text-anchor="middle" fill="#2a2a2a">7</text>
<path d="M86.8 193.3v1.4" stroke="#777" stroke-width="0.5"/>
<text x="81.9" y="201.6" font-size="4.9" text-anchor="middle" fill="#2a2a2a">8</text>
<path d="M96.7 193.3v1.4" stroke="#777" stroke-width="0.5"/>
<text x="91.8" y="201.6" font-size="4.9" text-anchor="middle" fill="#2a2a2a">9</text>
<path d="M106.6 193.3v1.4" stroke="#777" stroke-width="0.5"/>
<text x="101.6" y="201.6" font-size="4.9" text-anchor="middle" fill="#2a2a2a">10</text>
<path d="M116.5 193.3v1.4" stroke="#777" stroke-width="0.5"/>
<text x="111.5" y="201.6" font-size="4.9" text-anchor="middle" fill="#2a2a2a">11</text>
<path d="M126.4 193.3v1.4" stroke="#777" stroke-width="0.5"/>
<text x="121.4" y="201.6" font-size="4.9" text-anchor="middle" fill="#2a2a2a">12</text>
<path d="M136.3 193.3v1.4" stroke="#777" stroke-width="0.5"/>
<text x="131.3" y="201.6" font-size="4.9" text-anchor="middle" fill="#2a2a2a">16</text>
<path d="M146.1 193.3v1.4" stroke="#777" stroke-width="0.5"/>
<text x="141.2" y="201.6" font-size="4.9" text-anchor="middle" fill="#2a2a2a">20</text>
<path d="M156.0 193.3v1.4" stroke="#777" stroke-width="0.5"/>
<text x="151.1" y="201.6" font-size="4.9" text-anchor="middle" fill="#2a2a2a">24</text>
<path d="M165.9 193.3v1.4" stroke="#777" stroke-width="0.5"/>
<text x="162.4" y="201.6" font-size="4.9" text-anchor="middle" fill="#2a2a2a">Norm</text>
<rect x="61.1" y="192.4" width="41.8" height="2.0" fill="#000"/>
<path d="M42.3 192.0L52.2 191.6L62.1 190.4L72.0 187.0L81.9 183.0L91.8 173.6L101.6 183.0L111.5 180.6L121.4 188.0L131.3 189.0L141.2 189.0L151.1 187.0" fill="none" stroke="#000" stroke-width="1.00" stroke-linejoin="round"/>
<path d="M42.3 191.8L52.2 187.2L62.1 187.0L72.0 188.0L81.9 186.0L91.8 178.0L101.6 169.0L111.5 184.0L121.4 189.4L131.3 183.0L141.2 184.0" fill="none" stroke="#000" stroke-width="1.00" stroke-linejoin="round"/>
<path d="M62.1 189.0L72.0 177.0L81.9 133.0L91.8 129.4L101.6 125.0L111.5 172.0L121.4 179.0L131.3 168.6L141.2 180.6L151.1 175.6" fill="none" stroke="#000" stroke-width="1.00" stroke-linejoin="round"/>
<path d="M42.3 192.0L52.2 192.0L62.1 185.0L72.0 186.6L81.9 186.0L91.8 176.0L101.6 181.0L111.5 184.0L121.4 187.0L131.3 185.0L141.2 185.0L151.1 186.6" fill="none" stroke="#a4a4a4" stroke-width="0.85" stroke-linejoin="round"/>
<path d="M42.3 191.0L52.2 181.6L62.1 185.0L72.0 186.6L81.9 187.0L91.8 187.5L101.6 186.0L111.5 186.0L121.4 186.0L131.3 186.0L141.2 184.0" fill="none" stroke="#a4a4a4" stroke-width="0.85" stroke-linejoin="round"/>
<path d="M42.3 191.4L52.2 186.6L62.1 180.6L72.0 186.0L81.9 187.0L91.8 186.6L101.6 186.0L111.5 183.0L121.4 183.0L131.3 180.0L141.2 181.6" fill="none" stroke="#a4a4a4" stroke-width="0.85" stroke-linejoin="round"/>
<path d="M151.1 175.6" fill="none" stroke="#000" stroke-width="1.00" stroke-linejoin="round"/>
<path d="M42.3 189.7L44.6 192.0L42.3 194.3L40.0 192.0Z" fill="#000" stroke="#000" stroke-width="0.9"/>
<path d="M52.2 189.3L54.5 191.6L52.2 193.9L49.9 191.6Z" fill="#000" stroke="#000" stroke-width="0.9"/>
<path d="M72.0 184.7L74.3 187.0L72.0 189.3L69.7 187.0Z" fill="#000" stroke="#000" stroke-width="0.9"/>
<path d="M81.9 180.7L84.2 183.0L81.9 185.3L79.6 183.0Z" fill="#000" stroke="#000" stroke-width="0.9"/>
<path d="M101.6 180.7L103.9 183.0L101.6 185.3L99.3 183.0Z" fill="#000" stroke="#000" stroke-width="0.9"/>
<path d="M111.5 178.3L113.8 180.6L111.5 182.9L109.2 180.6Z" fill="#000" stroke="#000" stroke-width="0.9"/>
<path d="M121.4 185.7L123.7 188.0L121.4 190.3L119.1 188.0Z" fill="#000" stroke="#000" stroke-width="0.9"/>
<path d="M131.3 186.7L133.6 189.0L131.3 191.3L129.0 189.0Z" fill="#000" stroke="#000" stroke-width="0.9"/>
<path d="M141.2 186.7L143.5 189.0L141.2 191.3L138.9 189.0Z" fill="#000" stroke="#000" stroke-width="0.9"/>
<rect x="40.4" y="189.9" width="3.8" height="3.8" fill="#000" stroke="#000" stroke-width="0.9"/>
<rect x="50.3" y="185.3" width="3.8" height="3.8" fill="#000" stroke="#000" stroke-width="0.9"/>
<rect x="70.1" y="186.1" width="3.8" height="3.8" fill="#000" stroke="#000" stroke-width="0.9"/>
<rect x="80.0" y="184.1" width="3.8" height="3.8" fill="#000" stroke="#000" stroke-width="0.9"/>
<rect x="89.8" y="176.1" width="3.8" height="3.8" fill="#000" stroke="#000" stroke-width="0.9"/>
<rect x="99.7" y="167.1" width="3.8" height="3.8" fill="#000" stroke="#000" stroke-width="0.9"/>
<rect x="109.6" y="182.1" width="3.8" height="3.8" fill="#000" stroke="#000" stroke-width="0.9"/>
<rect x="129.4" y="181.1" width="3.8" height="3.8" fill="#000" stroke="#000" stroke-width="0.9"/>
<rect x="139.3" y="182.1" width="3.8" height="3.8" fill="#000" stroke="#000" stroke-width="0.9"/>
<circle cx="62.1" cy="189.0" r="1.9" fill="#000" stroke="#000" stroke-width="0.9"/>
<circle cx="72.0" cy="177.0" r="1.9" fill="#000" stroke="#000" stroke-width="0.9"/>
<circle cx="81.9" cy="133.0" r="1.9" fill="#000" stroke="#000" stroke-width="0.9"/>
<circle cx="91.8" cy="129.4" r="1.9" fill="#000" stroke="#000" stroke-width="0.9"/>
<circle cx="101.6" cy="125.0" r="1.9" fill="#000" stroke="#000" stroke-width="0.9"/>
<circle cx="111.5" cy="172.0" r="1.9" fill="#000" stroke="#000" stroke-width="0.9"/>
<circle cx="121.4" cy="179.0" r="1.9" fill="#000" stroke="#000" stroke-width="0.9"/>
<circle cx="131.3" cy="168.6" r="1.9" fill="#000" stroke="#000" stroke-width="0.9"/>
<circle cx="141.2" cy="180.6" r="1.9" fill="#000" stroke="#000" stroke-width="0.9"/>
<path d="M42.3 189.7L44.6 192.0L42.3 194.3L40.0 192.0Z" fill="#e8e8e8" stroke="#383838" stroke-width="1.1"/>
<path d="M52.2 189.7L54.5 192.0L52.2 194.3L49.9 192.0Z" fill="#e8e8e8" stroke="#383838" stroke-width="1.1"/>
<path d="M62.1 182.7L64.4 185.0L62.1 187.3L59.8 185.0Z" fill="#e8e8e8" stroke="#383838" stroke-width="1.1"/>
<path d="M72.0 184.3L74.3 186.6L72.0 188.9L69.7 186.6Z" fill="#e8e8e8" stroke="#383838" stroke-width="1.1"/>
<path d="M81.9 183.7L84.2 186.0L81.9 188.3L79.6 186.0Z" fill="#e8e8e8" stroke="#383838" stroke-width="1.1"/>
<path d="M91.8 173.7L94.0 176.0L91.8 178.3L89.5 176.0Z" fill="#e8e8e8" stroke="#383838" stroke-width="1.1"/>
<path d="M101.6 178.7L103.9 181.0L101.6 183.3L99.3 181.0Z" fill="#e8e8e8" stroke="#383838" stroke-width="1.1"/>
<path d="M111.5 181.7L113.8 184.0L111.5 186.3L109.2 184.0Z" fill="#e8e8e8" stroke="#383838" stroke-width="1.1"/>
<path d="M121.4 184.7L123.7 187.0L121.4 189.3L119.1 187.0Z" fill="#e8e8e8" stroke="#383838" stroke-width="1.1"/>
<path d="M131.3 182.7L133.6 185.0L131.3 187.3L129.0 185.0Z" fill="#e8e8e8" stroke="#383838" stroke-width="1.1"/>
<path d="M141.2 182.7L143.5 185.0L141.2 187.3L138.9 185.0Z" fill="#e8e8e8" stroke="#383838" stroke-width="1.1"/>
<path d="M151.1 184.3L153.4 186.6L151.1 188.9L148.8 186.6Z" fill="#e8e8e8" stroke="#383838" stroke-width="1.1"/>
<circle cx="42.3" cy="191.0" r="1.9" fill="#d0d0d0" stroke="#383838" stroke-width="1.1"/>
<circle cx="52.2" cy="181.6" r="1.9" fill="#d0d0d0" stroke="#383838" stroke-width="1.1"/>
<circle cx="62.1" cy="185.0" r="1.9" fill="#d0d0d0" stroke="#383838" stroke-width="1.1"/>
<circle cx="72.0" cy="186.6" r="1.9" fill="#d0d0d0" stroke="#383838" stroke-width="1.1"/>
<circle cx="81.9" cy="187.0" r="1.9" fill="#d0d0d0" stroke="#383838" stroke-width="1.1"/>
<circle cx="91.8" cy="187.5" r="1.9" fill="#d0d0d0" stroke="#383838" stroke-width="1.1"/>
<circle cx="101.6" cy="186.0" r="1.9" fill="#d0d0d0" stroke="#383838" stroke-width="1.1"/>
<circle cx="111.5" cy="186.0" r="1.9" fill="#d0d0d0" stroke="#383838" stroke-width="1.1"/>
<circle cx="121.4" cy="186.0" r="1.9" fill="#d0d0d0" stroke="#383838" stroke-width="1.1"/>
<circle cx="131.3" cy="186.0" r="1.9" fill="#d0d0d0" stroke="#383838" stroke-width="1.1"/>
<circle cx="141.2" cy="184.0" r="1.9" fill="#d0d0d0" stroke="#383838" stroke-width="1.1"/>
<rect x="40.4" y="189.5" width="3.8" height="3.8" fill="#d0d0d0" stroke="#383838" stroke-width="1.1"/>
<rect x="50.3" y="184.7" width="3.8" height="3.8" fill="#d0d0d0" stroke="#383838" stroke-width="1.1"/>
<rect x="60.2" y="178.7" width="3.8" height="3.8" fill="#d0d0d0" stroke="#383838" stroke-width="1.1"/>
<rect x="70.1" y="184.1" width="3.8" height="3.8" fill="#d0d0d0" stroke="#383838" stroke-width="1.1"/>
<rect x="80.0" y="185.1" width="3.8" height="3.8" fill="#d0d0d0" stroke="#383838" stroke-width="1.1"/>
<rect x="89.8" y="184.7" width="3.8" height="3.8" fill="#d0d0d0" stroke="#383838" stroke-width="1.1"/>
<rect x="99.7" y="184.1" width="3.8" height="3.8" fill="#d0d0d0" stroke="#383838" stroke-width="1.1"/>
<rect x="109.6" y="181.1" width="3.8" height="3.8" fill="#d0d0d0" stroke="#383838" stroke-width="1.1"/>
<rect x="119.5" y="181.1" width="3.8" height="3.8" fill="#d0d0d0" stroke="#383838" stroke-width="1.1"/>
<rect x="129.4" y="178.1" width="3.8" height="3.8" fill="#d0d0d0" stroke="#383838" stroke-width="1.1"/>
<rect x="139.3" y="179.7" width="3.8" height="3.8" fill="#d0d0d0" stroke="#383838" stroke-width="1.1"/>
<circle cx="151.1" cy="175.6" r="1.9" fill="#9a9a9a" stroke="#383838" stroke-width="1.1"/>
<path d="M62.1 188.1L64.4 190.4L62.1 192.7L59.8 190.4Z" fill="#000" stroke="#000" stroke-width="0.9"/>
<path d="M91.8 171.3L94.0 173.6L91.8 175.9L89.5 173.6Z" fill="#000" stroke="#000" stroke-width="0.9"/>
<rect x="60.2" y="185.1" width="3.8" height="3.8" fill="#000" stroke="#000" stroke-width="0.9"/>
<rect x="119.5" y="187.5" width="3.8" height="3.8" fill="#000" stroke="#000" stroke-width="0.9"/>
<path d="M161.0 168.0L162.7 171.7L159.2 171.7Z" fill="#fff" stroke="#222" stroke-width="0.95" stroke-linejoin="round"/>
<path d="M161.0 178.6L162.7 182.3L159.2 182.3Z" fill="#fff" stroke="#222" stroke-width="0.95" stroke-linejoin="round"/>
<path d="M161.0 180.6L162.7 184.3L159.2 184.3Z" fill="#fff" stroke="#222" stroke-width="0.95" stroke-linejoin="round"/>
<path d="M161.0 184.4L162.7 188.1L159.2 188.1Z" fill="#000" stroke="#000" stroke-width="0.6" stroke-linejoin="round"/>
<path d="M161.0 187.0L162.7 190.7L159.2 190.7Z" fill="#000" stroke="#000" stroke-width="0.6" stroke-linejoin="round"/>
<text x="103.7" y="209.4" font-size="7.5" font-weight="bold" text-anchor="middle" fill="#000" stroke="#000" stroke-width="0.25">Time (wk)</text>
<text transform="translate(7.3 154.5) rotate(-90)" font-size="7.5" font-weight="bold" text-anchor="middle" fill="#000" stroke="#000" stroke-width="0.25">CD45RA<tspan font-size="5.2" dy="-3.3">low/-</tspan><tspan dy="3.3"> </tspan>CD4 T cells</text>
<text transform="translate(17.4 154.2) rotate(-90)" font-size="7.5" font-weight="bold" text-anchor="middle" fill="#000" stroke="#000" stroke-width="0.25">(per µL)</text>
</g>
<g>
<path d="M210.2 115.4V195.3H345.2" fill="none" stroke="#777" stroke-width="0.8"/>
<path d="M208.6 195.3H210.2" stroke="#777" stroke-width="0.6"/>
<text x="206.6" y="197.6" font-size="4.9" text-anchor="end" fill="#2a2a2a">0</text>
<path d="M208.6 183.9H210.2" stroke="#777" stroke-width="0.6"/>
<text x="206.6" y="186.2" font-size="4.9" text-anchor="end" fill="#2a2a2a">2</text>
<path d="M208.6 172.5H210.2" stroke="#777" stroke-width="0.6"/>
<text x="206.6" y="174.8" font-size="4.9" text-anchor="end" fill="#2a2a2a">4</text>
<path d="M208.6 161.1H210.2" stroke="#777" stroke-width="0.6"/>
<text x="206.6" y="163.4" font-size="4.9" text-anchor="end" fill="#2a2a2a">6</text>
<path d="M208.6 149.8H210.2" stroke="#777" stroke-width="0.6"/>
<text x="206.6" y="152.0" font-size="4.9" text-anchor="end" fill="#2a2a2a">8</text>
<path d="M208.6 138.4H210.2" stroke="#777" stroke-width="0.6"/>
<text transform="translate(206.8 138.6) rotate(-90)" font-size="4.3" text-anchor="middle" fill="#2a2a2a">10</text>
<path d="M208.6 127.0H210.2" stroke="#777" stroke-width="0.6"/>
<text transform="translate(206.8 127.2) rotate(-90)" font-size="4.3" text-anchor="middle" fill="#2a2a2a">12</text>
<path d="M208.6 115.6H210.2" stroke="#777" stroke-width="0.6"/>
<text transform="translate(206.8 115.8) rotate(-90)" font-size="4.3" text-anchor="middle" fill="#2a2a2a">14</text>
<path d="M221.1 195.3v1.4" stroke="#777" stroke-width="0.5"/>
<text x="215.4" y="202.9" font-size="4.9" text-anchor="middle" fill="#2a2a2a">2</text>
<path d="M232.4 195.3v1.4" stroke="#777" stroke-width="0.5"/>
<text x="226.7" y="202.9" font-size="4.9" text-anchor="middle" fill="#2a2a2a">4</text>
<path d="M243.7 195.3v1.4" stroke="#777" stroke-width="0.5"/>
<text x="238.1" y="202.9" font-size="4.9" text-anchor="middle" fill="#2a2a2a">6</text>
<path d="M255.1 195.3v1.4" stroke="#777" stroke-width="0.5"/>
<text x="249.4" y="202.9" font-size="4.9" text-anchor="middle" fill="#2a2a2a">7</text>
<path d="M266.4 195.3v1.4" stroke="#777" stroke-width="0.5"/>
<text x="260.7" y="202.9" font-size="4.9" text-anchor="middle" fill="#2a2a2a">8</text>
<path d="M277.7 195.3v1.4" stroke="#777" stroke-width="0.5"/>
<text x="272.1" y="202.9" font-size="4.9" text-anchor="middle" fill="#2a2a2a">9</text>
<path d="M289.0 195.3v1.4" stroke="#777" stroke-width="0.5"/>
<text x="283.4" y="202.9" font-size="4.9" text-anchor="middle" fill="#2a2a2a">10</text>
<path d="M300.4 195.3v1.4" stroke="#777" stroke-width="0.5"/>
<text x="294.7" y="202.9" font-size="4.9" text-anchor="middle" fill="#2a2a2a">11</text>
<path d="M311.7 195.3v1.4" stroke="#777" stroke-width="0.5"/>
<text x="306.0" y="202.9" font-size="4.9" text-anchor="middle" fill="#2a2a2a">12</text>
<path d="M323.0 195.3v1.4" stroke="#777" stroke-width="0.5"/>
<text x="317.4" y="202.9" font-size="4.9" text-anchor="middle" fill="#2a2a2a">16</text>
<path d="M334.4 195.3v1.4" stroke="#777" stroke-width="0.5"/>
<text x="328.7" y="202.9" font-size="4.9" text-anchor="middle" fill="#2a2a2a">20</text>
<path d="M345.7 195.3v1.4" stroke="#777" stroke-width="0.5"/>
<text x="340.0" y="202.9" font-size="4.9" text-anchor="middle" fill="#2a2a2a">24</text>
<rect x="237.1" y="194.4" width="47.5" height="2.0" fill="#000"/>
<path d="M238.1 189.0L249.4 181.0L260.7 161.0L272.1 128.6L283.4 164.0L294.7 152.0L306.0 180.0L317.4 180.6L328.7 181.0L340.0 173.0" fill="none" stroke="#000" stroke-width="1.00" stroke-linejoin="round"/>
<path d="M238.1 189.0L249.4 186.0L260.7 177.0L272.1 163.0L283.4 142.0L294.7 179.0L306.0 189.0L317.4 177.0L328.7 175.0" fill="none" stroke="#000" stroke-width="1.00" stroke-linejoin="round"/>
<path d="M238.1 189.0L249.4 178.6L260.7 131.4L272.1 126.6L283.4 123.0L294.7 173.0L306.0 179.6L317.4 169.4L328.7 181.0L340.0 176.0" fill="none" stroke="#000" stroke-width="1.00" stroke-linejoin="round"/>
<path d="M238.1 189.0L249.4 190.0L260.7 191.0L272.1 183.0L283.4 187.0L294.7 190.0L306.0 191.5L317.4 190.0L328.7 190.0L340.0 191.4" fill="none" stroke="#a4a4a4" stroke-width="0.85" stroke-linejoin="round"/>
<path d="M238.1 189.0L249.4 192.0L260.7 191.4L272.1 192.0L283.4 192.0L294.7 191.0L306.0 192.0L317.4 191.4L328.7 190.4L340.0 186.6" fill="none" stroke="#a4a4a4" stroke-width="0.85" stroke-linejoin="round"/>
<path d="M238.1 189.0L249.4 191.0L260.7 192.0L272.1 192.6L283.4 192.0L294.7 190.0L306.0 190.5L317.4 189.4L328.7 190.0" fill="none" stroke="#a4a4a4" stroke-width="0.85" stroke-linejoin="round"/>
<path d="M238.1 186.7L240.4 189.0L238.1 191.3L235.8 189.0Z" fill="#000" stroke="#000" stroke-width="0.9"/>
<path d="M249.4 178.7L251.7 181.0L249.4 183.3L247.1 181.0Z" fill="#000" stroke="#000" stroke-width="0.9"/>
<path d="M260.7 158.7L263.0 161.0L260.7 163.3L258.4 161.0Z" fill="#000" stroke="#000" stroke-width="0.9"/>
<path d="M272.1 126.3L274.4 128.6L272.1 130.9L269.8 128.6Z" fill="#000" stroke="#000" stroke-width="0.9"/>
<path d="M283.4 161.7L285.7 164.0L283.4 166.3L281.1 164.0Z" fill="#000" stroke="#000" stroke-width="0.9"/>
<path d="M294.7 149.7L297.0 152.0L294.7 154.3L292.4 152.0Z" fill="#000" stroke="#000" stroke-width="0.9"/>
<path d="M306.0 177.7L308.3 180.0L306.0 182.3L303.7 180.0Z" fill="#000" stroke="#000" stroke-width="0.9"/>
<path d="M317.4 178.3L319.7 180.6L317.4 182.9L315.1 180.6Z" fill="#000" stroke="#000" stroke-width="0.9"/>
<path d="M328.7 178.7L331.0 181.0L328.7 183.3L326.4 181.0Z" fill="#000" stroke="#000" stroke-width="0.9"/>
<path d="M340.0 170.7L342.3 173.0L340.0 175.3L337.7 173.0Z" fill="#000" stroke="#000" stroke-width="0.9"/>
<rect x="236.2" y="187.1" width="3.8" height="3.8" fill="#000" stroke="#000" stroke-width="0.9"/>
<rect x="247.5" y="184.1" width="3.8" height="3.8" fill="#000" stroke="#000" stroke-width="0.9"/>
<rect x="258.8" y="175.1" width="3.8" height="3.8" fill="#000" stroke="#000" stroke-width="0.9"/>
<rect x="270.2" y="161.1" width="3.8" height="3.8" fill="#000" stroke="#000" stroke-width="0.9"/>
<rect x="281.5" y="140.1" width="3.8" height="3.8" fill="#000" stroke="#000" stroke-width="0.9"/>
<rect x="292.8" y="177.1" width="3.8" height="3.8" fill="#000" stroke="#000" stroke-width="0.9"/>
<rect x="304.1" y="187.1" width="3.8" height="3.8" fill="#000" stroke="#000" stroke-width="0.9"/>
<rect x="315.5" y="175.1" width="3.8" height="3.8" fill="#000" stroke="#000" stroke-width="0.9"/>
<rect x="326.8" y="173.1" width="3.8" height="3.8" fill="#000" stroke="#000" stroke-width="0.9"/>
<circle cx="238.1" cy="189.0" r="1.9" fill="#000" stroke="#000" stroke-width="0.9"/>
<circle cx="249.4" cy="178.6" r="1.9" fill="#000" stroke="#000" stroke-width="0.9"/>
<circle cx="260.7" cy="131.4" r="1.9" fill="#000" stroke="#000" stroke-width="0.9"/>
<circle cx="272.1" cy="126.6" r="1.9" fill="#000" stroke="#000" stroke-width="0.9"/>
<circle cx="283.4" cy="123.0" r="1.9" fill="#000" stroke="#000" stroke-width="0.9"/>
<circle cx="294.7" cy="173.0" r="1.9" fill="#000" stroke="#000" stroke-width="0.9"/>
<circle cx="306.0" cy="179.6" r="1.9" fill="#000" stroke="#000" stroke-width="0.9"/>
<circle cx="317.4" cy="169.4" r="1.9" fill="#000" stroke="#000" stroke-width="0.9"/>
<circle cx="328.7" cy="181.0" r="1.9" fill="#000" stroke="#000" stroke-width="0.9"/>
<circle cx="340.0" cy="176.0" r="1.9" fill="#000" stroke="#000" stroke-width="0.9"/>
<path d="M238.1 186.7L240.4 189.0L238.1 191.3L235.8 189.0Z" fill="#e8e8e8" stroke="#383838" stroke-width="1.1"/>
<path d="M249.4 187.7L251.7 190.0L249.4 192.3L247.1 190.0Z" fill="#e8e8e8" stroke="#383838" stroke-width="1.1"/>
<path d="M260.7 188.7L263.0 191.0L260.7 193.3L258.4 191.0Z" fill="#e8e8e8" stroke="#383838" stroke-width="1.1"/>
<path d="M272.1 180.7L274.4 183.0L272.1 185.3L269.8 183.0Z" fill="#e8e8e8" stroke="#383838" stroke-width="1.1"/>
<path d="M283.4 184.7L285.7 187.0L283.4 189.3L281.1 187.0Z" fill="#e8e8e8" stroke="#383838" stroke-width="1.1"/>
<path d="M294.7 187.7L297.0 190.0L294.7 192.3L292.4 190.0Z" fill="#e8e8e8" stroke="#383838" stroke-width="1.1"/>
<path d="M306.0 189.2L308.3 191.5L306.0 193.8L303.7 191.5Z" fill="#e8e8e8" stroke="#383838" stroke-width="1.1"/>
<path d="M317.4 187.7L319.7 190.0L317.4 192.3L315.1 190.0Z" fill="#e8e8e8" stroke="#383838" stroke-width="1.1"/>
<path d="M328.7 187.7L331.0 190.0L328.7 192.3L326.4 190.0Z" fill="#e8e8e8" stroke="#383838" stroke-width="1.1"/>
<path d="M340.0 189.1L342.3 191.4L340.0 193.7L337.7 191.4Z" fill="#e8e8e8" stroke="#383838" stroke-width="1.1"/>
<circle cx="238.1" cy="189.0" r="1.9" fill="#d0d0d0" stroke="#383838" stroke-width="1.1"/>
<circle cx="249.4" cy="192.0" r="1.9" fill="#d0d0d0" stroke="#383838" stroke-width="1.1"/>
<circle cx="260.7" cy="191.4" r="1.9" fill="#d0d0d0" stroke="#383838" stroke-width="1.1"/>
<circle cx="272.1" cy="192.0" r="1.9" fill="#d0d0d0" stroke="#383838" stroke-width="1.1"/>
<circle cx="283.4" cy="192.0" r="1.9" fill="#d0d0d0" stroke="#383838" stroke-width="1.1"/>
<circle cx="294.7" cy="191.0" r="1.9" fill="#d0d0d0" stroke="#383838" stroke-width="1.1"/>
<circle cx="306.0" cy="192.0" r="1.9" fill="#d0d0d0" stroke="#383838" stroke-width="1.1"/>
<circle cx="317.4" cy="191.4" r="1.9" fill="#d0d0d0" stroke="#383838" stroke-width="1.1"/>
<circle cx="328.7" cy="190.4" r="1.9" fill="#d0d0d0" stroke="#383838" stroke-width="1.1"/>
<circle cx="340.0" cy="186.6" r="1.9" fill="#d0d0d0" stroke="#383838" stroke-width="1.1"/>
<rect x="236.2" y="187.1" width="3.8" height="3.8" fill="#d0d0d0" stroke="#383838" stroke-width="1.1"/>
<rect x="247.5" y="189.1" width="3.8" height="3.8" fill="#d0d0d0" stroke="#383838" stroke-width="1.1"/>
<rect x="258.8" y="190.1" width="3.8" height="3.8" fill="#d0d0d0" stroke="#383838" stroke-width="1.1"/>
<rect x="270.2" y="190.7" width="3.8" height="3.8" fill="#d0d0d0" stroke="#383838" stroke-width="1.1"/>
<rect x="281.5" y="190.1" width="3.8" height="3.8" fill="#d0d0d0" stroke="#383838" stroke-width="1.1"/>
<rect x="292.8" y="188.1" width="3.8" height="3.8" fill="#d0d0d0" stroke="#383838" stroke-width="1.1"/>
<rect x="304.1" y="188.6" width="3.8" height="3.8" fill="#d0d0d0" stroke="#383838" stroke-width="1.1"/>
<rect x="315.5" y="187.5" width="3.8" height="3.8" fill="#d0d0d0" stroke="#383838" stroke-width="1.1"/>
<rect x="326.8" y="188.1" width="3.8" height="3.8" fill="#d0d0d0" stroke="#383838" stroke-width="1.1"/>
<text x="279.8" y="210.8" font-size="7.5" font-weight="bold" text-anchor="middle" fill="#000" stroke="#000" stroke-width="0.25">Time (wk)</text>
<text transform="translate(187 155.1) rotate(-90)" font-size="7.5" font-weight="bold" text-anchor="middle" fill="#000" stroke="#000" stroke-width="0.25">CD45RA<tspan font-size="5.2" dy="-3.3">low/-</tspan><tspan dy="3.3"> </tspan>CD4 T cells</text>
<text transform="translate(197.4 156.5) rotate(-90)" font-size="7.5" font-weight="bold" text-anchor="middle" fill="#000" stroke="#000" stroke-width="0.25">(relative to week 6)</text>
</g>
<g>
<path d="M34.6 227.7V306.2H166" fill="none" stroke="#777" stroke-width="0.8"/>
<path d="M33.0 306.0H34.6" stroke="#777" stroke-width="0.6"/>
<text x="31.0" y="308.3" font-size="4.9" text-anchor="end" fill="#2a2a2a">0</text>
<path d="M33.0 296.2H34.6" stroke="#777" stroke-width="0.6"/>
<text x="31.0" y="298.5" font-size="4.9" text-anchor="end" fill="#2a2a2a">100</text>
<path d="M33.0 286.5H34.6" stroke="#777" stroke-width="0.6"/>
<text x="31.0" y="288.7" font-size="4.9" text-anchor="end" fill="#2a2a2a">200</text>
<path d="M33.0 276.7H34.6" stroke="#777" stroke-width="0.6"/>
<text x="31.0" y="279.0" font-size="4.9" text-anchor="end" fill="#2a2a2a">300</text>
<path d="M33.0 266.9H34.6" stroke="#777" stroke-width="0.6"/>
<text x="31.0" y="269.2" font-size="4.9" text-anchor="end" fill="#2a2a2a">400</text>
<path d="M33.0 257.2H34.6" stroke="#777" stroke-width="0.6"/>
<text x="31.0" y="259.5" font-size="4.9" text-anchor="end" fill="#2a2a2a">500</text>
<path d="M33.0 247.4H34.6" stroke="#777" stroke-width="0.6"/>
<text x="31.0" y="249.7" font-size="4.9" text-anchor="end" fill="#2a2a2a">600</text>
<path d="M33.0 237.7H34.6" stroke="#777" stroke-width="0.6"/>
<text x="31.0" y="239.9" font-size="4.9" text-anchor="end" fill="#2a2a2a">700</text>
<path d="M33.0 227.9H34.6" stroke="#777" stroke-width="0.6"/>
<text x="31.0" y="230.2" font-size="4.9" text-anchor="end" fill="#2a2a2a">800</text>
<path d="M44.9 306.2v1.4" stroke="#777" stroke-width="0.5"/>
<text x="39.9" y="314.2" font-size="4.9" text-anchor="middle" fill="#2a2a2a">2</text>
<path d="M55.0 306.2v1.4" stroke="#777" stroke-width="0.5"/>
<text x="49.9" y="314.2" font-size="4.9" text-anchor="middle" fill="#2a2a2a">4</text>
<path d="M65.0 306.2v1.4" stroke="#777" stroke-width="0.5"/>
<text x="60.0" y="314.2" font-size="4.9" text-anchor="middle" fill="#2a2a2a">6</text>
<path d="M75.0 306.2v1.4" stroke="#777" stroke-width="0.5"/>
<text x="70.0" y="314.2" font-size="4.9" text-anchor="middle" fill="#2a2a2a">7</text>
<path d="M85.1 306.2v1.4" stroke="#777" stroke-width="0.5"/>
<text x="80.1" y="314.2" font-size="4.9" text-anchor="middle" fill="#2a2a2a">8</text>
<path d="M95.1 306.2v1.4" stroke="#777" stroke-width="0.5"/>
<text x="90.1" y="314.2" font-size="4.9" text-anchor="middle" fill="#2a2a2a">9</text>
<path d="M105.2 306.2v1.4" stroke="#777" stroke-width="0.5"/>
<text x="100.1" y="314.2" font-size="4.9" text-anchor="middle" fill="#2a2a2a">10</text>
<path d="M115.2 306.2v1.4" stroke="#777" stroke-width="0.5"/>
<text x="110.2" y="314.2" font-size="4.9" text-anchor="middle" fill="#2a2a2a">11</text>
<path d="M125.2 306.2v1.4" stroke="#777" stroke-width="0.5"/>
<text x="120.2" y="314.2" font-size="4.9" text-anchor="middle" fill="#2a2a2a">12</text>
<path d="M135.3 306.2v1.4" stroke="#777" stroke-width="0.5"/>
<text x="130.3" y="314.2" font-size="4.9" text-anchor="middle" fill="#2a2a2a">16</text>
<path d="M145.3 306.2v1.4" stroke="#777" stroke-width="0.5"/>
<text x="140.3" y="314.2" font-size="4.9" text-anchor="middle" fill="#2a2a2a">20</text>
<path d="M155.4 306.2v1.4" stroke="#777" stroke-width="0.5"/>
<text x="150.3" y="314.2" font-size="4.9" text-anchor="middle" fill="#2a2a2a">24</text>
<path d="M165.4 306.2v1.4" stroke="#777" stroke-width="0.5"/>
<text x="161.8" y="314.2" font-size="4.9" text-anchor="middle" fill="#2a2a2a">Norm</text>
<rect x="59.0" y="305.3" width="42.4" height="2.0" fill="#000"/>
<path d="M60.0 304.0L70.0 298.0L80.1 302.0L90.1 295.4L100.1 300.0L110.2 301.0L120.2 302.6L130.3 302.0L140.3 302.4L150.3 301.4" fill="none" stroke="#000" stroke-width="1.00" stroke-linejoin="round"/>
<path d="M39.9 305.0L49.9 303.0L60.0 303.0L70.0 303.0L80.1 302.0L90.1 297.0L100.1 288.6L110.2 301.0L120.2 301.0L130.3 294.0L140.3 294.6" fill="none" stroke="#000" stroke-width="1.00" stroke-linejoin="round"/>
<path d="M60.0 304.0L70.0 300.0L80.1 302.0L90.1 299.0L100.1 294.6L110.2 301.0L120.2 301.5L130.3 291.0L140.3 295.0L150.3 278.0" fill="none" stroke="#000" stroke-width="1.00" stroke-linejoin="round"/>
<path d="M39.9 305.0L49.9 304.0L60.0 304.0L70.0 304.0L80.1 300.0L90.1 300.0L100.1 298.6L110.2 300.0L120.2 300.0L130.3 279.0L140.3 273.6L150.3 281.6" fill="none" stroke="#a4a4a4" stroke-width="0.85" stroke-linejoin="round"/>
<path d="M39.9 304.5L49.9 303.0L60.0 303.0L70.0 304.0L80.1 303.0L90.1 300.0L100.1 301.4L110.2 299.0L120.2 296.0L130.3 295.0L140.3 264.0L150.3 276.0" fill="none" stroke="#a4a4a4" stroke-width="0.85" stroke-linejoin="round"/>
<path d="M39.9 305.0L49.9 302.0L60.0 302.0L70.0 303.0L80.1 303.0L90.1 303.0L100.1 302.0L110.2 290.4L120.2 278.0L130.3 250.0" fill="none" stroke="#a4a4a4" stroke-width="0.85" stroke-linejoin="round"/>
<path d="M130.3 250.0L140.3 253.0" fill="none" stroke="#a4a4a4" stroke-width="0.60" stroke-linejoin="round"/>
<path d="M60.0 301.7L62.3 304.0L60.0 306.3L57.7 304.0Z" fill="#000" stroke="#000" stroke-width="0.9"/>
<path d="M70.0 295.7L72.3 298.0L70.0 300.3L67.7 298.0Z" fill="#000" stroke="#000" stroke-width="0.9"/>
<path d="M80.1 299.7L82.4 302.0L80.1 304.3L77.8 302.0Z" fill="#000" stroke="#000" stroke-width="0.9"/>
<path d="M90.1 293.1L92.4 295.4L90.1 297.7L87.8 295.4Z" fill="#000" stroke="#000" stroke-width="0.9"/>
<path d="M100.1 297.7L102.4 300.0L100.1 302.3L97.8 300.0Z" fill="#000" stroke="#000" stroke-width="0.9"/>
<path d="M110.2 298.7L112.5 301.0L110.2 303.3L107.9 301.0Z" fill="#000" stroke="#000" stroke-width="0.9"/>
<path d="M120.2 300.3L122.5 302.6L120.2 304.9L117.9 302.6Z" fill="#000" stroke="#000" stroke-width="0.9"/>
<path d="M130.3 299.7L132.6 302.0L130.3 304.3L128.0 302.0Z" fill="#000" stroke="#000" stroke-width="0.9"/>
<path d="M140.3 300.1L142.6 302.4L140.3 304.7L138.0 302.4Z" fill="#000" stroke="#000" stroke-width="0.9"/>
<path d="M150.3 299.1L152.6 301.4L150.3 303.7L148.0 301.4Z" fill="#000" stroke="#000" stroke-width="0.9"/>
<rect x="38.0" y="303.1" width="3.8" height="3.8" fill="#000" stroke="#000" stroke-width="0.9"/>
<rect x="48.0" y="301.1" width="3.8" height="3.8" fill="#000" stroke="#000" stroke-width="0.9"/>
<rect x="58.1" y="301.1" width="3.8" height="3.8" fill="#000" stroke="#000" stroke-width="0.9"/>
<rect x="68.1" y="301.1" width="3.8" height="3.8" fill="#000" stroke="#000" stroke-width="0.9"/>
<rect x="78.2" y="300.1" width="3.8" height="3.8" fill="#000" stroke="#000" stroke-width="0.9"/>
<rect x="88.2" y="295.1" width="3.8" height="3.8" fill="#000" stroke="#000" stroke-width="0.9"/>
<rect x="98.2" y="286.7" width="3.8" height="3.8" fill="#000" stroke="#000" stroke-width="0.9"/>
<rect x="108.3" y="299.1" width="3.8" height="3.8" fill="#000" stroke="#000" stroke-width="0.9"/>
<rect x="118.3" y="299.1" width="3.8" height="3.8" fill="#000" stroke="#000" stroke-width="0.9"/>
<rect x="128.4" y="292.1" width="3.8" height="3.8" fill="#000" stroke="#000" stroke-width="0.9"/>
<rect x="138.4" y="292.7" width="3.8" height="3.8" fill="#000" stroke="#000" stroke-width="0.9"/>
<circle cx="60.0" cy="304.0" r="1.9" fill="#000" stroke="#000" stroke-width="0.9"/>
<circle cx="70.0" cy="300.0" r="1.9" fill="#000" stroke="#000" stroke-width="0.9"/>
<circle cx="80.1" cy="302.0" r="1.9" fill="#000" stroke="#000" stroke-width="0.9"/>
<circle cx="90.1" cy="299.0" r="1.9" fill="#000" stroke="#000" stroke-width="0.9"/>
<circle cx="100.1" cy="294.6" r="1.9" fill="#000" stroke="#000" stroke-width="0.9"/>
<circle cx="110.2" cy="301.0" r="1.9" fill="#000" stroke="#000" stroke-width="0.9"/>
<circle cx="120.2" cy="301.5" r="1.9" fill="#000" stroke="#000" stroke-width="0.9"/>
<circle cx="130.3" cy="291.0" r="1.9" fill="#000" stroke="#000" stroke-width="0.9"/>
<circle cx="140.3" cy="295.0" r="1.9" fill="#000" stroke="#000" stroke-width="0.9"/>
<circle cx="150.3" cy="278.0" r="1.9" fill="#000" stroke="#000" stroke-width="0.9"/>
<path d="M39.9 302.7L42.2 305.0L39.9 307.3L37.6 305.0Z" fill="#e8e8e8" stroke="#383838" stroke-width="1.1"/>
<path d="M49.9 301.7L52.2 304.0L49.9 306.3L47.6 304.0Z" fill="#e8e8e8" stroke="#383838" stroke-width="1.1"/>
<path d="M60.0 301.7L62.3 304.0L60.0 306.3L57.7 304.0Z" fill="#e8e8e8" stroke="#383838" stroke-width="1.1"/>
<path d="M70.0 301.7L72.3 304.0L70.0 306.3L67.7 304.0Z" fill="#e8e8e8" stroke="#383838" stroke-width="1.1"/>
<path d="M80.1 297.7L82.4 300.0L80.1 302.3L77.8 300.0Z" fill="#e8e8e8" stroke="#383838" stroke-width="1.1"/>
<path d="M90.1 297.7L92.4 300.0L90.1 302.3L87.8 300.0Z" fill="#e8e8e8" stroke="#383838" stroke-width="1.1"/>
<path d="M100.1 296.3L102.4 298.6L100.1 300.9L97.8 298.6Z" fill="#e8e8e8" stroke="#383838" stroke-width="1.1"/>
<path d="M110.2 297.7L112.5 300.0L110.2 302.3L107.9 300.0Z" fill="#e8e8e8" stroke="#383838" stroke-width="1.1"/>
<path d="M120.2 297.7L122.5 300.0L120.2 302.3L117.9 300.0Z" fill="#e8e8e8" stroke="#383838" stroke-width="1.1"/>
<path d="M130.3 276.7L132.6 279.0L130.3 281.3L128.0 279.0Z" fill="#e8e8e8" stroke="#383838" stroke-width="1.1"/>
<path d="M140.3 271.3L142.6 273.6L140.3 275.9L138.0 273.6Z" fill="#e8e8e8" stroke="#383838" stroke-width="1.1"/>
<path d="M150.3 279.3L152.6 281.6L150.3 283.9L148.0 281.6Z" fill="#e8e8e8" stroke="#383838" stroke-width="1.1"/>
<circle cx="39.9" cy="304.5" r="1.9" fill="#d0d0d0" stroke="#383838" stroke-width="1.1"/>
<circle cx="49.9" cy="303.0" r="1.9" fill="#d0d0d0" stroke="#383838" stroke-width="1.1"/>
<circle cx="60.0" cy="303.0" r="1.9" fill="#d0d0d0" stroke="#383838" stroke-width="1.1"/>
<circle cx="70.0" cy="304.0" r="1.9" fill="#d0d0d0" stroke="#383838" stroke-width="1.1"/>
<circle cx="80.1" cy="303.0" r="1.9" fill="#d0d0d0" stroke="#383838" stroke-width="1.1"/>
<circle cx="90.1" cy="300.0" r="1.9" fill="#d0d0d0" stroke="#383838" stroke-width="1.1"/>
<circle cx="100.1" cy="301.4" r="1.9" fill="#d0d0d0" stroke="#383838" stroke-width="1.1"/>
<circle cx="110.2" cy="299.0" r="1.9" fill="#d0d0d0" stroke="#383838" stroke-width="1.1"/>
<circle cx="120.2" cy="296.0" r="1.9" fill="#d0d0d0" stroke="#383838" stroke-width="1.1"/>
<circle cx="130.3" cy="295.0" r="1.9" fill="#d0d0d0" stroke="#383838" stroke-width="1.1"/>
<circle cx="140.3" cy="264.0" r="1.9" fill="#d0d0d0" stroke="#383838" stroke-width="1.1"/>
<circle cx="150.3" cy="276.0" r="1.9" fill="#d0d0d0" stroke="#383838" stroke-width="1.1"/>
<rect x="38.0" y="303.1" width="3.8" height="3.8" fill="#d0d0d0" stroke="#383838" stroke-width="1.1"/>
<rect x="48.0" y="300.1" width="3.8" height="3.8" fill="#d0d0d0" stroke="#383838" stroke-width="1.1"/>
<rect x="58.1" y="300.1" width="3.8" height="3.8" fill="#d0d0d0" stroke="#383838" stroke-width="1.1"/>
<rect x="68.1" y="301.1" width="3.8" height="3.8" fill="#d0d0d0" stroke="#383838" stroke-width="1.1"/>
<rect x="78.2" y="301.1" width="3.8" height="3.8" fill="#d0d0d0" stroke="#383838" stroke-width="1.1"/>
<rect x="88.2" y="301.1" width="3.8" height="3.8" fill="#d0d0d0" stroke="#383838" stroke-width="1.1"/>
<rect x="98.2" y="300.1" width="3.8" height="3.8" fill="#d0d0d0" stroke="#383838" stroke-width="1.1"/>
<rect x="108.3" y="288.5" width="3.8" height="3.8" fill="#d0d0d0" stroke="#383838" stroke-width="1.1"/>
<rect x="118.3" y="276.1" width="3.8" height="3.8" fill="#d0d0d0" stroke="#383838" stroke-width="1.1"/>
<rect x="128.4" y="248.1" width="3.8" height="3.8" fill="#d0d0d0" stroke="#383838" stroke-width="1.1"/>
<rect x="138.4" y="251.1" width="3.8" height="3.8" fill="#8c8c8c" stroke="#383838" stroke-width="1.1"/>
<path d="M160.4 219.0L162.1 222.7L158.6 222.7Z" fill="#fff" stroke="#222" stroke-width="0.95" stroke-linejoin="round"/>
<path d="M160.4 227.6L162.1 231.3L158.6 231.3Z" fill="#000" stroke="#000" stroke-width="0.6" stroke-linejoin="round"/>
<path d="M160.4 236.3L162.1 240.0L158.6 240.0Z" fill="#fff" stroke="#222" stroke-width="0.95" stroke-linejoin="round"/>
<path d="M160.4 257.0L162.1 260.7L158.6 260.7Z" fill="#fff" stroke="#222" stroke-width="0.95" stroke-linejoin="round"/>
<path d="M160.4 265.0L162.1 268.7L158.6 268.7Z" fill="#fff" stroke="#222" stroke-width="0.95" stroke-linejoin="round"/>
<path d="M160.4 271.8L162.1 275.5L158.6 275.5Z" fill="#fff" stroke="#222" stroke-width="0.95" stroke-linejoin="round"/>
<path d="M160.4 276.0L162.1 279.7L158.6 279.7Z" fill="#fff" stroke="#222" stroke-width="0.95" stroke-linejoin="round"/>
<text x="102" y="322.1" font-size="7.5" font-weight="bold" text-anchor="middle" fill="#000" stroke="#000" stroke-width="0.25">Time (wk)</text>
<text transform="translate(7.0 267) rotate(-90)" font-size="7.5" font-weight="bold" text-anchor="middle" fill="#000" stroke="#000" stroke-width="0.25">CD45RA<tspan font-size="5.2" dy="-3.3">high</tspan><tspan dy="3.3"> </tspan>CD4 T cells</text>
<text transform="translate(16.5 266.9) rotate(-90)" font-size="7.5" font-weight="bold" text-anchor="middle" fill="#000" stroke="#000" stroke-width="0.25">(per µL)</text>
</g>
<g>
<path d="M210 227.5V307.3H345.2" fill="none" stroke="#777" stroke-width="0.8"/>
<path d="M208.4 307.2H210" stroke="#777" stroke-width="0.6"/>
<text x="206.4" y="309.5" font-size="4.9" text-anchor="end" fill="#2a2a2a">0</text>
<path d="M208.4 298.4H210" stroke="#777" stroke-width="0.6"/>
<text x="206.4" y="300.6" font-size="4.9" text-anchor="end" fill="#2a2a2a">2</text>
<path d="M208.4 289.5H210" stroke="#777" stroke-width="0.6"/>
<text x="206.4" y="291.8" font-size="4.9" text-anchor="end" fill="#2a2a2a">4</text>
<path d="M208.4 280.7H210" stroke="#777" stroke-width="0.6"/>
<text x="206.4" y="283.0" font-size="4.9" text-anchor="end" fill="#2a2a2a">6</text>
<path d="M208.4 271.9H210" stroke="#777" stroke-width="0.6"/>
<text x="206.4" y="274.1" font-size="4.9" text-anchor="end" fill="#2a2a2a">8</text>
<path d="M208.4 263.0H210" stroke="#777" stroke-width="0.6"/>
<text transform="translate(206.6 263.2) rotate(-90)" font-size="4.3" text-anchor="middle" fill="#2a2a2a">10</text>
<path d="M208.4 254.2H210" stroke="#777" stroke-width="0.6"/>
<text transform="translate(206.6 254.4) rotate(-90)" font-size="4.3" text-anchor="middle" fill="#2a2a2a">12</text>
<path d="M208.4 245.4H210" stroke="#777" stroke-width="0.6"/>
<text transform="translate(206.6 245.6) rotate(-90)" font-size="4.3" text-anchor="middle" fill="#2a2a2a">14</text>
<path d="M208.4 236.5H210" stroke="#777" stroke-width="0.6"/>
<text transform="translate(206.6 236.7) rotate(-90)" font-size="4.3" text-anchor="middle" fill="#2a2a2a">16</text>
<path d="M208.4 227.7H210" stroke="#777" stroke-width="0.6"/>
<text transform="translate(206.6 227.9) rotate(-90)" font-size="4.3" text-anchor="middle" fill="#2a2a2a">18</text>
<path d="M221.1 307.3v1.4" stroke="#777" stroke-width="0.5"/>
<text x="215.4" y="316.2" font-size="4.9" text-anchor="middle" fill="#2a2a2a">2</text>
<path d="M232.4 307.3v1.4" stroke="#777" stroke-width="0.5"/>
<text x="226.7" y="316.2" font-size="4.9" text-anchor="middle" fill="#2a2a2a">4</text>
<path d="M243.7 307.3v1.4" stroke="#777" stroke-width="0.5"/>
<text x="238.1" y="316.2" font-size="4.9" text-anchor="middle" fill="#2a2a2a">6</text>
<path d="M255.1 307.3v1.4" stroke="#777" stroke-width="0.5"/>
<text x="249.4" y="316.2" font-size="4.9" text-anchor="middle" fill="#2a2a2a">7</text>
<path d="M266.4 307.3v1.4" stroke="#777" stroke-width="0.5"/>
<text x="260.7" y="316.2" font-size="4.9" text-anchor="middle" fill="#2a2a2a">8</text>
<path d="M277.7 307.3v1.4" stroke="#777" stroke-width="0.5"/>
<text x="272.1" y="316.2" font-size="4.9" text-anchor="middle" fill="#2a2a2a">9</text>
<path d="M289.0 307.3v1.4" stroke="#777" stroke-width="0.5"/>
<text x="283.4" y="316.2" font-size="4.9" text-anchor="middle" fill="#2a2a2a">10</text>
<path d="M300.4 307.3v1.4" stroke="#777" stroke-width="0.5"/>
<text x="294.7" y="316.2" font-size="4.9" text-anchor="middle" fill="#2a2a2a">11</text>
<path d="M311.7 307.3v1.4" stroke="#777" stroke-width="0.5"/>
<text x="306.0" y="316.2" font-size="4.9" text-anchor="middle" fill="#2a2a2a">12</text>
<path d="M323.0 307.3v1.4" stroke="#777" stroke-width="0.5"/>
<text x="317.4" y="316.2" font-size="4.9" text-anchor="middle" fill="#2a2a2a">16</text>
<path d="M334.4 307.3v1.4" stroke="#777" stroke-width="0.5"/>
<text x="328.7" y="316.2" font-size="4.9" text-anchor="middle" fill="#2a2a2a">20</text>
<path d="M345.7 307.3v1.4" stroke="#777" stroke-width="0.5"/>
<text x="340.0" y="316.2" font-size="4.9" text-anchor="middle" fill="#2a2a2a">24</text>
<rect x="237.1" y="306.4" width="47.5" height="2.0" fill="#000"/>
<path d="M238.1 302.0L249.4 283.0L260.7 298.0L272.1 274.6L283.4 293.0L294.7 299.0L306.0 299.0L317.4 295.4L328.7 297.0L340.0 294.6" fill="none" stroke="#000" stroke-width="1.00" stroke-linejoin="round"/>
<path d="M238.1 302.0L249.4 301.0L260.7 298.0L272.1 283.0L283.4 254.0L294.7 292.0L306.0 290.0L317.4 275.0L328.7 274.6" fill="none" stroke="#000" stroke-width="1.00" stroke-linejoin="round"/>
<path d="M238.1 302.0L249.4 299.0L260.7 300.0L272.1 295.0L283.4 289.0L294.7 294.0L306.0 299.0L317.4 283.0L328.7 289.0L340.0 264.6" fill="none" stroke="#000" stroke-width="1.00" stroke-linejoin="round"/>
<path d="M238.1 302.0L249.4 303.0L260.7 300.0L272.1 295.0L283.4 295.0L294.7 300.0L306.0 299.0L317.4 270.0L328.7 262.0L340.0 273.0" fill="none" stroke="#a4a4a4" stroke-width="0.85" stroke-linejoin="round"/>
<path d="M238.1 302.0L249.4 304.6L260.7 304.0L272.1 303.0L283.4 296.0L294.7 295.0L306.0 292.0L317.4 291.0L328.7 239.4L340.0 258.0" fill="none" stroke="#a4a4a4" stroke-width="0.85" stroke-linejoin="round"/>
<path d="M238.1 302.0L249.4 302.0L260.7 303.0L272.1 300.0L283.4 301.0L294.7 288.6L306.0 273.0L317.4 239.0L328.7 242.0" fill="none" stroke="#a4a4a4" stroke-width="0.85" stroke-linejoin="round"/>
<path d="M238.1 299.7L240.4 302.0L238.1 304.3L235.8 302.0Z" fill="#000" stroke="#000" stroke-width="0.9"/>
<path d="M249.4 280.7L251.7 283.0L249.4 285.3L247.1 283.0Z" fill="#000" stroke="#000" stroke-width="0.9"/>
<path d="M260.7 295.7L263.0 298.0L260.7 300.3L258.4 298.0Z" fill="#000" stroke="#000" stroke-width="0.9"/>
<path d="M272.1 272.3L274.4 274.6L272.1 276.9L269.8 274.6Z" fill="#000" stroke="#000" stroke-width="0.9"/>
<path d="M283.4 290.7L285.7 293.0L283.4 295.3L281.1 293.0Z" fill="#000" stroke="#000" stroke-width="0.9"/>
<path d="M294.7 296.7L297.0 299.0L294.7 301.3L292.4 299.0Z" fill="#000" stroke="#000" stroke-width="0.9"/>
<path d="M306.0 296.7L308.3 299.0L306.0 301.3L303.7 299.0Z" fill="#000" stroke="#000" stroke-width="0.9"/>
<path d="M317.4 293.1L319.7 295.4L317.4 297.7L315.1 295.4Z" fill="#000" stroke="#000" stroke-width="0.9"/>
<path d="M328.7 294.7L331.0 297.0L328.7 299.3L326.4 297.0Z" fill="#000" stroke="#000" stroke-width="0.9"/>
<path d="M340.0 292.3L342.3 294.6L340.0 296.9L337.7 294.6Z" fill="#000" stroke="#000" stroke-width="0.9"/>
<rect x="236.2" y="300.1" width="3.8" height="3.8" fill="#000" stroke="#000" stroke-width="0.9"/>
<rect x="247.5" y="299.1" width="3.8" height="3.8" fill="#000" stroke="#000" stroke-width="0.9"/>
<rect x="258.8" y="296.1" width="3.8" height="3.8" fill="#000" stroke="#000" stroke-width="0.9"/>
<rect x="270.2" y="281.1" width="3.8" height="3.8" fill="#000" stroke="#000" stroke-width="0.9"/>
<rect x="281.5" y="252.1" width="3.8" height="3.8" fill="#000" stroke="#000" stroke-width="0.9"/>
<rect x="292.8" y="290.1" width="3.8" height="3.8" fill="#000" stroke="#000" stroke-width="0.9"/>
<rect x="304.1" y="288.1" width="3.8" height="3.8" fill="#000" stroke="#000" stroke-width="0.9"/>
<rect x="315.5" y="273.1" width="3.8" height="3.8" fill="#000" stroke="#000" stroke-width="0.9"/>
<rect x="326.8" y="272.7" width="3.8" height="3.8" fill="#000" stroke="#000" stroke-width="0.9"/>
<circle cx="238.1" cy="302.0" r="1.9" fill="#000" stroke="#000" stroke-width="0.9"/>
<circle cx="249.4" cy="299.0" r="1.9" fill="#000" stroke="#000" stroke-width="0.9"/>
<circle cx="260.7" cy="300.0" r="1.9" fill="#000" stroke="#000" stroke-width="0.9"/>
<circle cx="272.1" cy="295.0" r="1.9" fill="#000" stroke="#000" stroke-width="0.9"/>
<circle cx="283.4" cy="289.0" r="1.9" fill="#000" stroke="#000" stroke-width="0.9"/>
<circle cx="294.7" cy="294.0" r="1.9" fill="#000" stroke="#000" stroke-width="0.9"/>
<circle cx="306.0" cy="299.0" r="1.9" fill="#000" stroke="#000" stroke-width="0.9"/>
<circle cx="317.4" cy="283.0" r="1.9" fill="#000" stroke="#000" stroke-width="0.9"/>
<circle cx="328.7" cy="289.0" r="1.9" fill="#000" stroke="#000" stroke-width="0.9"/>
<circle cx="340.0" cy="264.6" r="1.9" fill="#000" stroke="#000" stroke-width="0.9"/>
<path d="M238.1 299.7L240.4 302.0L238.1 304.3L235.8 302.0Z" fill="#e8e8e8" stroke="#383838" stroke-width="1.1"/>
<path d="M249.4 300.7L251.7 303.0L249.4 305.3L247.1 303.0Z" fill="#e8e8e8" stroke="#383838" stroke-width="1.1"/>
<path d="M260.7 297.7L263.0 300.0L260.7 302.3L258.4 300.0Z" fill="#e8e8e8" stroke="#383838" stroke-width="1.1"/>
<path d="M272.1 292.7L274.4 295.0L272.1 297.3L269.8 295.0Z" fill="#e8e8e8" stroke="#383838" stroke-width="1.1"/>
<path d="M283.4 292.7L285.7 295.0L283.4 297.3L281.1 295.0Z" fill="#e8e8e8" stroke="#383838" stroke-width="1.1"/>
<path d="M294.7 297.7L297.0 300.0L294.7 302.3L292.4 300.0Z" fill="#e8e8e8" stroke="#383838" stroke-width="1.1"/>
<path d="M306.0 296.7L308.3 299.0L306.0 301.3L303.7 299.0Z" fill="#e8e8e8" stroke="#383838" stroke-width="1.1"/>
<path d="M317.4 267.7L319.7 270.0L317.4 272.3L315.1 270.0Z" fill="#e8e8e8" stroke="#383838" stroke-width="1.1"/>
<path d="M328.7 259.7L331.0 262.0L328.7 264.3L326.4 262.0Z" fill="#e8e8e8" stroke="#383838" stroke-width="1.1"/>
<path d="M340.0 270.7L342.3 273.0L340.0 275.3L337.7 273.0Z" fill="#e8e8e8" stroke="#383838" stroke-width="1.1"/>
<circle cx="238.1" cy="302.0" r="1.9" fill="#d0d0d0" stroke="#383838" stroke-width="1.1"/>
<circle cx="249.4" cy="304.6" r="1.9" fill="#d0d0d0" stroke="#383838" stroke-width="1.1"/>
<circle cx="260.7" cy="304.0" r="1.9" fill="#d0d0d0" stroke="#383838" stroke-width="1.1"/>
<circle cx="272.1" cy="303.0" r="1.9" fill="#d0d0d0" stroke="#383838" stroke-width="1.1"/>
<circle cx="283.4" cy="296.0" r="1.9" fill="#d0d0d0" stroke="#383838" stroke-width="1.1"/>
<circle cx="294.7" cy="295.0" r="1.9" fill="#d0d0d0" stroke="#383838" stroke-width="1.1"/>
<circle cx="306.0" cy="292.0" r="1.9" fill="#d0d0d0" stroke="#383838" stroke-width="1.1"/>
<circle cx="317.4" cy="291.0" r="1.9" fill="#d0d0d0" stroke="#383838" stroke-width="1.1"/>
<circle cx="328.7" cy="239.4" r="1.9" fill="#d0d0d0" stroke="#383838" stroke-width="1.1"/>
<circle cx="340.0" cy="258.0" r="1.9" fill="#d0d0d0" stroke="#383838" stroke-width="1.1"/>
<rect x="236.2" y="300.1" width="3.8" height="3.8" fill="#d0d0d0" stroke="#383838" stroke-width="1.1"/>
<rect x="247.5" y="300.1" width="3.8" height="3.8" fill="#d0d0d0" stroke="#383838" stroke-width="1.1"/>
<rect x="258.8" y="301.1" width="3.8" height="3.8" fill="#d0d0d0" stroke="#383838" stroke-width="1.1"/>
<rect x="270.2" y="298.1" width="3.8" height="3.8" fill="#d0d0d0" stroke="#383838" stroke-width="1.1"/>
<rect x="281.5" y="299.1" width="3.8" height="3.8" fill="#d0d0d0" stroke="#383838" stroke-width="1.1"/>
<rect x="292.8" y="286.7" width="3.8" height="3.8" fill="#d0d0d0" stroke="#383838" stroke-width="1.1"/>
<rect x="304.1" y="271.1" width="3.8" height="3.8" fill="#d0d0d0" stroke="#383838" stroke-width="1.1"/>
<rect x="315.5" y="237.1" width="3.8" height="3.8" fill="#d0d0d0" stroke="#383838" stroke-width="1.1"/>
<rect x="326.8" y="240.1" width="3.8" height="3.8" fill="#d0d0d0" stroke="#383838" stroke-width="1.1"/>
<text x="279.8" y="324.4" font-size="7.5" font-weight="bold" text-anchor="middle" fill="#000" stroke="#000" stroke-width="0.25">Time (wk)</text>
<text transform="translate(187 267.3) rotate(-90)" font-size="7.5" font-weight="bold" text-anchor="middle" fill="#000" stroke="#000" stroke-width="0.25">CD45RA<tspan font-size="5.2" dy="-3.3">high</tspan><tspan dy="3.3"> </tspan>CD4 T cells</text>
<text transform="translate(197.5 269) rotate(-90)" font-size="7.5" font-weight="bold" text-anchor="middle" fill="#000" stroke="#000" stroke-width="0.25">(relative to week 6)</text>
</g>
<g>
<path d="M31.4 341V418.2H166" fill="none" stroke="#777" stroke-width="0.8"/>
<path d="M29.799999999999997 418.1H31.4" stroke="#777" stroke-width="0.6"/>
<text x="27.8" y="420.4" font-size="4.9" text-anchor="end" fill="#2a2a2a">0</text>
<path d="M29.799999999999997 409.6H31.4" stroke="#777" stroke-width="0.6"/>
<text x="27.8" y="411.8" font-size="4.9" text-anchor="end" fill="#2a2a2a">5</text>
<path d="M29.799999999999997 401.0H31.4" stroke="#777" stroke-width="0.6"/>
<text x="27.8" y="403.3" font-size="4.9" text-anchor="end" fill="#2a2a2a">10</text>
<path d="M29.799999999999997 392.5H31.4" stroke="#777" stroke-width="0.6"/>
<text x="27.8" y="394.8" font-size="4.9" text-anchor="end" fill="#2a2a2a">15</text>
<path d="M29.799999999999997 384.0H31.4" stroke="#777" stroke-width="0.6"/>
<text x="27.8" y="386.2" font-size="4.9" text-anchor="end" fill="#2a2a2a">20</text>
<path d="M29.799999999999997 375.4H31.4" stroke="#777" stroke-width="0.6"/>
<text x="27.8" y="377.7" font-size="4.9" text-anchor="end" fill="#2a2a2a">25</text>
<path d="M29.799999999999997 366.9H31.4" stroke="#777" stroke-width="0.6"/>
<text x="27.8" y="369.2" font-size="4.9" text-anchor="end" fill="#2a2a2a">30</text>
<path d="M29.799999999999997 358.4H31.4" stroke="#777" stroke-width="0.6"/>
<text x="27.8" y="360.6" font-size="4.9" text-anchor="end" fill="#2a2a2a">35</text>
<path d="M29.799999999999997 349.8H31.4" stroke="#777" stroke-width="0.6"/>
<text x="27.8" y="352.1" font-size="4.9" text-anchor="end" fill="#2a2a2a">40</text>
<path d="M29.799999999999997 341.3H31.4" stroke="#777" stroke-width="0.6"/>
<text x="27.8" y="343.6" font-size="4.9" text-anchor="end" fill="#2a2a2a">45</text>
<path d="M42.1 418.2v1.4" stroke="#777" stroke-width="0.5"/>
<text x="37.0" y="426.3" font-size="4.9" text-anchor="middle" fill="#2a2a2a">2</text>
<path d="M52.4 418.2v1.4" stroke="#777" stroke-width="0.5"/>
<text x="47.3" y="426.3" font-size="4.9" text-anchor="middle" fill="#2a2a2a">4</text>
<path d="M62.7 418.2v1.4" stroke="#777" stroke-width="0.5"/>
<text x="57.5" y="426.3" font-size="4.9" text-anchor="middle" fill="#2a2a2a">6</text>
<path d="M72.9 418.2v1.4" stroke="#777" stroke-width="0.5"/>
<text x="67.8" y="426.3" font-size="4.9" text-anchor="middle" fill="#2a2a2a">7</text>
<path d="M83.2 418.2v1.4" stroke="#777" stroke-width="0.5"/>
<text x="78.1" y="426.3" font-size="4.9" text-anchor="middle" fill="#2a2a2a">8</text>
<path d="M93.5 418.2v1.4" stroke="#777" stroke-width="0.5"/>
<text x="88.3" y="426.3" font-size="4.9" text-anchor="middle" fill="#2a2a2a">9</text>
<path d="M103.8 418.2v1.4" stroke="#777" stroke-width="0.5"/>
<text x="98.6" y="426.3" font-size="4.9" text-anchor="middle" fill="#2a2a2a">10</text>
<path d="M114.0 418.2v1.4" stroke="#777" stroke-width="0.5"/>
<text x="108.9" y="426.3" font-size="4.9" text-anchor="middle" fill="#2a2a2a">11</text>
<path d="M124.3 418.2v1.4" stroke="#777" stroke-width="0.5"/>
<text x="119.2" y="426.3" font-size="4.9" text-anchor="middle" fill="#2a2a2a">12</text>
<path d="M134.6 418.2v1.4" stroke="#777" stroke-width="0.5"/>
<text x="129.4" y="426.3" font-size="4.9" text-anchor="middle" fill="#2a2a2a">16</text>
<path d="M144.8 418.2v1.4" stroke="#777" stroke-width="0.5"/>
<text x="139.7" y="426.3" font-size="4.9" text-anchor="middle" fill="#2a2a2a">20</text>
<path d="M155.1 418.2v1.4" stroke="#777" stroke-width="0.5"/>
<text x="150.0" y="426.3" font-size="4.9" text-anchor="middle" fill="#2a2a2a">24</text>
<path d="M165.4 418.2v1.4" stroke="#777" stroke-width="0.5"/>
<text x="161.6" y="426.3" font-size="4.9" text-anchor="middle" fill="#2a2a2a">Norm</text>
<rect x="56.5" y="417.3" width="43.3" height="2.0" fill="#000"/>
<path d="M57.5 417.0L67.8 417.0L78.1 417.0L88.3 417.0L98.6 412.0L108.9 415.5L119.2 417.0L129.4 416.6L139.7 416.6L150.0 415.0" fill="none" stroke="#000" stroke-width="1.00" stroke-linejoin="round"/>
<path d="M57.5 417.0L67.8 416.0L78.1 413.0L88.3 416.5L98.6 415.0L108.9 415.0L119.2 415.0L129.4 406.0L139.7 410.6" fill="none" stroke="#000" stroke-width="1.00" stroke-linejoin="round"/>
<path d="M57.5 417.0L67.8 414.6L78.1 416.0L88.3 417.0L98.6 416.0L108.9 415.5L119.2 416.0L129.4 412.0L139.7 410.6L150.0 409.6" fill="none" stroke="#000" stroke-width="1.00" stroke-linejoin="round"/>
<path d="M57.5 415.0L67.8 416.0L78.1 417.0L88.3 408.4L98.6 414.0L108.9 415.0L119.2 416.0L129.4 415.0L139.7 379.4L150.0 365.0" fill="none" stroke="#a4a4a4" stroke-width="0.85" stroke-linejoin="round"/>
<path d="M57.5 417.0L67.8 416.6L78.1 417.6L88.3 416.0L98.6 414.0L108.9 404.0L119.2 415.0L129.4 412.0L139.7 408.0L150.0 385.6" fill="none" stroke="#a4a4a4" stroke-width="0.85" stroke-linejoin="round"/>
<path d="M57.5 416.0L67.8 416.6L78.1 416.0L88.3 414.0L98.6 404.4L108.9 388.0L119.2 396.0L129.4 347.4L139.7 399.4" fill="none" stroke="#a4a4a4" stroke-width="0.85" stroke-linejoin="round"/>
<path d="M57.5 414.7L59.8 417.0L57.5 419.3L55.2 417.0Z" fill="#000" stroke="#000" stroke-width="0.9"/>
<path d="M67.8 414.7L70.1 417.0L67.8 419.3L65.5 417.0Z" fill="#000" stroke="#000" stroke-width="0.9"/>
<path d="M78.1 414.7L80.4 417.0L78.1 419.3L75.8 417.0Z" fill="#000" stroke="#000" stroke-width="0.9"/>
<path d="M88.3 414.7L90.6 417.0L88.3 419.3L86.0 417.0Z" fill="#000" stroke="#000" stroke-width="0.9"/>
<path d="M98.6 409.7L100.9 412.0L98.6 414.3L96.3 412.0Z" fill="#000" stroke="#000" stroke-width="0.9"/>
<path d="M108.9 413.2L111.2 415.5L108.9 417.8L106.6 415.5Z" fill="#000" stroke="#000" stroke-width="0.9"/>
<path d="M119.2 414.7L121.5 417.0L119.2 419.3L116.9 417.0Z" fill="#000" stroke="#000" stroke-width="0.9"/>
<path d="M129.4 414.3L131.7 416.6L129.4 418.9L127.1 416.6Z" fill="#000" stroke="#000" stroke-width="0.9"/>
<path d="M139.7 414.3L142.0 416.6L139.7 418.9L137.4 416.6Z" fill="#000" stroke="#000" stroke-width="0.9"/>
<path d="M150.0 412.7L152.3 415.0L150.0 417.3L147.7 415.0Z" fill="#000" stroke="#000" stroke-width="0.9"/>
<rect x="55.6" y="415.1" width="3.8" height="3.8" fill="#000" stroke="#000" stroke-width="0.9"/>
<rect x="65.9" y="414.1" width="3.8" height="3.8" fill="#000" stroke="#000" stroke-width="0.9"/>
<rect x="76.2" y="411.1" width="3.8" height="3.8" fill="#000" stroke="#000" stroke-width="0.9"/>
<rect x="86.4" y="414.6" width="3.8" height="3.8" fill="#000" stroke="#000" stroke-width="0.9"/>
<rect x="96.7" y="413.1" width="3.8" height="3.8" fill="#000" stroke="#000" stroke-width="0.9"/>
<rect x="107.0" y="413.1" width="3.8" height="3.8" fill="#000" stroke="#000" stroke-width="0.9"/>
<rect x="117.3" y="413.1" width="3.8" height="3.8" fill="#000" stroke="#000" stroke-width="0.9"/>
<rect x="127.5" y="404.1" width="3.8" height="3.8" fill="#000" stroke="#000" stroke-width="0.9"/>
<rect x="137.8" y="408.7" width="3.8" height="3.8" fill="#000" stroke="#000" stroke-width="0.9"/>
<circle cx="57.5" cy="417.0" r="1.9" fill="#000" stroke="#000" stroke-width="0.9"/>
<circle cx="67.8" cy="414.6" r="1.9" fill="#000" stroke="#000" stroke-width="0.9"/>
<circle cx="78.1" cy="416.0" r="1.9" fill="#000" stroke="#000" stroke-width="0.9"/>
<circle cx="88.3" cy="417.0" r="1.9" fill="#000" stroke="#000" stroke-width="0.9"/>
<circle cx="98.6" cy="416.0" r="1.9" fill="#000" stroke="#000" stroke-width="0.9"/>
<circle cx="108.9" cy="415.5" r="1.9" fill="#000" stroke="#000" stroke-width="0.9"/>
<circle cx="119.2" cy="416.0" r="1.9" fill="#000" stroke="#000" stroke-width="0.9"/>
<circle cx="129.4" cy="412.0" r="1.9" fill="#000" stroke="#000" stroke-width="0.9"/>
<circle cx="139.7" cy="410.6" r="1.9" fill="#000" stroke="#000" stroke-width="0.9"/>
<circle cx="150.0" cy="409.6" r="1.9" fill="#000" stroke="#000" stroke-width="0.9"/>
<path d="M57.5 412.7L59.8 415.0L57.5 417.3L55.2 415.0Z" fill="#e8e8e8" stroke="#383838" stroke-width="1.1"/>
<path d="M67.8 413.7L70.1 416.0L67.8 418.3L65.5 416.0Z" fill="#e8e8e8" stroke="#383838" stroke-width="1.1"/>
<path d="M78.1 414.7L80.4 417.0L78.1 419.3L75.8 417.0Z" fill="#e8e8e8" stroke="#383838" stroke-width="1.1"/>
<path d="M88.3 406.1L90.6 408.4L88.3 410.7L86.0 408.4Z" fill="#e8e8e8" stroke="#383838" stroke-width="1.1"/>
<path d="M98.6 411.7L100.9 414.0L98.6 416.3L96.3 414.0Z" fill="#e8e8e8" stroke="#383838" stroke-width="1.1"/>
<path d="M108.9 412.7L111.2 415.0L108.9 417.3L106.6 415.0Z" fill="#e8e8e8" stroke="#383838" stroke-width="1.1"/>
<path d="M119.2 413.7L121.5 416.0L119.2 418.3L116.9 416.0Z" fill="#e8e8e8" stroke="#383838" stroke-width="1.1"/>
<path d="M129.4 412.7L131.7 415.0L129.4 417.3L127.1 415.0Z" fill="#e8e8e8" stroke="#383838" stroke-width="1.1"/>
<path d="M139.7 377.1L142.0 379.4L139.7 381.7L137.4 379.4Z" fill="#e8e8e8" stroke="#383838" stroke-width="1.1"/>
<path d="M150.0 362.7L152.3 365.0L150.0 367.3L147.7 365.0Z" fill="#e8e8e8" stroke="#383838" stroke-width="1.1"/>
<circle cx="57.5" cy="417.0" r="1.9" fill="#d0d0d0" stroke="#383838" stroke-width="1.1"/>
<circle cx="67.8" cy="416.6" r="1.9" fill="#d0d0d0" stroke="#383838" stroke-width="1.1"/>
<circle cx="78.1" cy="417.6" r="1.9" fill="#d0d0d0" stroke="#383838" stroke-width="1.1"/>
<circle cx="88.3" cy="416.0" r="1.9" fill="#d0d0d0" stroke="#383838" stroke-width="1.1"/>
<circle cx="98.6" cy="414.0" r="1.9" fill="#d0d0d0" stroke="#383838" stroke-width="1.1"/>
<circle cx="108.9" cy="404.0" r="1.9" fill="#d0d0d0" stroke="#383838" stroke-width="1.1"/>
<circle cx="119.2" cy="415.0" r="1.9" fill="#d0d0d0" stroke="#383838" stroke-width="1.1"/>
<circle cx="129.4" cy="412.0" r="1.9" fill="#d0d0d0" stroke="#383838" stroke-width="1.1"/>
<circle cx="139.7" cy="408.0" r="1.9" fill="#d0d0d0" stroke="#383838" stroke-width="1.1"/>
<circle cx="150.0" cy="385.6" r="1.9" fill="#d0d0d0" stroke="#383838" stroke-width="1.1"/>
<rect x="55.6" y="414.1" width="3.8" height="3.8" fill="#d0d0d0" stroke="#383838" stroke-width="1.1"/>
<rect x="65.9" y="414.7" width="3.8" height="3.8" fill="#d0d0d0" stroke="#383838" stroke-width="1.1"/>
<rect x="76.2" y="414.1" width="3.8" height="3.8" fill="#d0d0d0" stroke="#383838" stroke-width="1.1"/>
<rect x="86.4" y="412.1" width="3.8" height="3.8" fill="#d0d0d0" stroke="#383838" stroke-width="1.1"/>
<rect x="96.7" y="402.5" width="3.8" height="3.8" fill="#d0d0d0" stroke="#383838" stroke-width="1.1"/>
<rect x="107.0" y="386.1" width="3.8" height="3.8" fill="#d0d0d0" stroke="#383838" stroke-width="1.1"/>
<rect x="117.3" y="394.1" width="3.8" height="3.8" fill="#d0d0d0" stroke="#383838" stroke-width="1.1"/>
<rect x="127.5" y="345.5" width="3.8" height="3.8" fill="#d0d0d0" stroke="#383838" stroke-width="1.1"/>
<rect x="137.8" y="397.5" width="3.8" height="3.8" fill="#d0d0d0" stroke="#383838" stroke-width="1.1"/>
<path d="M160.2 329.9L162.0 333.6L158.5 333.6Z" fill="#fff" stroke="#222" stroke-width="0.95" stroke-linejoin="round"/>
<path d="M160.2 332.4L162.0 336.1L158.5 336.1Z" fill="#fff" stroke="#222" stroke-width="0.95" stroke-linejoin="round"/>
<rect x="158.4" y="335.0" width="3.6" height="3.6" fill="#fff" stroke="#222" stroke-width="0.95"/>
<path d="M160.2 361.2L162.0 364.9L158.5 364.9Z" fill="#fff" stroke="#222" stroke-width="0.95" stroke-linejoin="round"/>
<path d="M160.2 364.1L162.0 367.8L158.5 367.8Z" fill="#fff" stroke="#222" stroke-width="0.95" stroke-linejoin="round"/>
<path d="M160.2 398.5L162.0 402.2L158.5 402.2Z" fill="#fff" stroke="#222" stroke-width="0.95" stroke-linejoin="round"/>
<text x="99.8" y="434.9" font-size="7.5" font-weight="bold" text-anchor="middle" fill="#000" stroke="#000" stroke-width="0.25">Time (wk)</text>
<text transform="translate(7.3 379.2) rotate(-90)" font-size="7.5" font-weight="bold" text-anchor="middle" fill="#000" stroke="#000" stroke-width="0.25">TREC<tspan font-size="4.4" dy="-3.0">+</tspan><tspan dy="3.0"> </tspan>CD4 T cells</text>
<text transform="translate(17 379.8) rotate(-90)" font-size="7.5" font-weight="bold" text-anchor="middle" fill="#000" stroke="#000" stroke-width="0.25">(per µL)</text>
</g>
<g>
<path d="M210.4 340.4V420.1H345.2" fill="none" stroke="#777" stroke-width="0.8"/>
<path d="M208.8 420.0H210.4" stroke="#777" stroke-width="0.6"/>
<text x="206.8" y="422.3" font-size="4.9" text-anchor="end" fill="#2a2a2a">0</text>
<path d="M208.8 411.2H210.4" stroke="#777" stroke-width="0.6"/>
<text x="206.8" y="413.4" font-size="4.9" text-anchor="end" fill="#2a2a2a">5</text>
<path d="M208.8 402.4H210.4" stroke="#777" stroke-width="0.6"/>
<text x="206.8" y="404.6" font-size="4.9" text-anchor="end" fill="#2a2a2a">10</text>
<path d="M208.8 393.5H210.4" stroke="#777" stroke-width="0.6"/>
<text x="206.8" y="395.8" font-size="4.9" text-anchor="end" fill="#2a2a2a">15</text>
<path d="M208.8 384.7H210.4" stroke="#777" stroke-width="0.6"/>
<text x="206.8" y="387.0" font-size="4.9" text-anchor="end" fill="#2a2a2a">20</text>
<path d="M208.8 375.9H210.4" stroke="#777" stroke-width="0.6"/>
<text x="206.8" y="378.2" font-size="4.9" text-anchor="end" fill="#2a2a2a">25</text>
<path d="M208.8 367.1H210.4" stroke="#777" stroke-width="0.6"/>
<text x="206.8" y="369.3" font-size="4.9" text-anchor="end" fill="#2a2a2a">30</text>
<path d="M208.8 358.2H210.4" stroke="#777" stroke-width="0.6"/>
<text x="206.8" y="360.5" font-size="4.9" text-anchor="end" fill="#2a2a2a">35</text>
<path d="M208.8 349.4H210.4" stroke="#777" stroke-width="0.6"/>
<text x="206.8" y="351.7" font-size="4.9" text-anchor="end" fill="#2a2a2a">40</text>
<path d="M208.8 340.6H210.4" stroke="#777" stroke-width="0.6"/>
<text x="206.8" y="342.9" font-size="4.9" text-anchor="end" fill="#2a2a2a">45</text>
<path d="M221.1 420.1v1.4" stroke="#777" stroke-width="0.5"/>
<text x="215.4" y="428.1" font-size="4.9" text-anchor="middle" fill="#2a2a2a">2</text>
<path d="M232.4 420.1v1.4" stroke="#777" stroke-width="0.5"/>
<text x="226.7" y="428.1" font-size="4.9" text-anchor="middle" fill="#2a2a2a">4</text>
<path d="M243.7 420.1v1.4" stroke="#777" stroke-width="0.5"/>
<text x="238.1" y="428.1" font-size="4.9" text-anchor="middle" fill="#2a2a2a">6</text>
<path d="M255.1 420.1v1.4" stroke="#777" stroke-width="0.5"/>
<text x="249.4" y="428.1" font-size="4.9" text-anchor="middle" fill="#2a2a2a">7</text>
<path d="M266.4 420.1v1.4" stroke="#777" stroke-width="0.5"/>
<text x="260.7" y="428.1" font-size="4.9" text-anchor="middle" fill="#2a2a2a">8</text>
<path d="M277.7 420.1v1.4" stroke="#777" stroke-width="0.5"/>
<text x="272.1" y="428.1" font-size="4.9" text-anchor="middle" fill="#2a2a2a">9</text>
<path d="M289.0 420.1v1.4" stroke="#777" stroke-width="0.5"/>
<text x="283.4" y="428.1" font-size="4.9" text-anchor="middle" fill="#2a2a2a">10</text>
<path d="M300.4 420.1v1.4" stroke="#777" stroke-width="0.5"/>
<text x="294.7" y="428.1" font-size="4.9" text-anchor="middle" fill="#2a2a2a">11</text>
<path d="M311.7 420.1v1.4" stroke="#777" stroke-width="0.5"/>
<text x="306.0" y="428.1" font-size="4.9" text-anchor="middle" fill="#2a2a2a">12</text>
<path d="M323.0 420.1v1.4" stroke="#777" stroke-width="0.5"/>
<text x="317.4" y="428.1" font-size="4.9" text-anchor="middle" fill="#2a2a2a">16</text>
<path d="M334.4 420.1v1.4" stroke="#777" stroke-width="0.5"/>
<text x="328.7" y="428.1" font-size="4.9" text-anchor="middle" fill="#2a2a2a">20</text>
<path d="M345.7 420.1v1.4" stroke="#777" stroke-width="0.5"/>
<text x="340.0" y="428.1" font-size="4.9" text-anchor="middle" fill="#2a2a2a">24</text>
<rect x="237.1" y="419.2" width="47.5" height="2.0" fill="#000"/>
<path d="M238.1 417.6L249.4 418.0L260.7 418.0L272.1 418.0L283.4 412.0L294.7 417.0L306.0 418.0L317.4 418.0L328.7 418.6L340.0 416.0" fill="none" stroke="#000" stroke-width="1.00" stroke-linejoin="round"/>
<path d="M238.1 417.6L249.4 418.0L260.7 415.0L272.1 418.0L283.4 417.0L294.7 416.6L306.0 417.0L317.4 407.0L328.7 410.0" fill="none" stroke="#000" stroke-width="1.00" stroke-linejoin="round"/>
<path d="M238.1 417.6L249.4 418.0L260.7 418.0L272.1 418.0L283.4 417.0L294.7 417.0L306.0 417.0L317.4 416.0L328.7 414.0L340.0 413.4" fill="none" stroke="#000" stroke-width="1.00" stroke-linejoin="round"/>
<path d="M238.1 417.6L249.4 418.0L260.7 419.0L272.1 418.0L283.4 417.0L294.7 416.0L306.0 416.0L317.4 415.0L328.7 406.6" fill="none" stroke="#a4a4a4" stroke-width="0.60" stroke-linejoin="round"/>
<path d="M238.1 417.6L249.4 418.0L260.7 418.0L272.1 417.0L283.4 416.0L294.7 417.0L306.0 417.0L317.4 416.0L328.7 407.0L340.0 393.0" fill="none" stroke="#a4a4a4" stroke-width="0.85" stroke-linejoin="round"/>
<path d="M238.1 417.6L249.4 418.0L260.7 419.4L272.1 415.0L283.4 415.0L294.7 401.0L306.0 415.0L317.4 418.0L328.7 400.0L340.0 378.6" fill="none" stroke="#a4a4a4" stroke-width="0.85" stroke-linejoin="round"/>
<path d="M238.1 417.6L249.4 416.0L260.7 418.0L272.1 418.0L283.4 405.4L294.7 388.6L306.0 396.6L317.4 346.4L328.7 400.0" fill="none" stroke="#a4a4a4" stroke-width="0.85" stroke-linejoin="round"/>
<path d="M238.1 415.3L240.4 417.6L238.1 419.9L235.8 417.6Z" fill="#000" stroke="#000" stroke-width="0.9"/>
<path d="M249.4 415.7L251.7 418.0L249.4 420.3L247.1 418.0Z" fill="#000" stroke="#000" stroke-width="0.9"/>
<path d="M260.7 415.7L263.0 418.0L260.7 420.3L258.4 418.0Z" fill="#000" stroke="#000" stroke-width="0.9"/>
<path d="M272.1 415.7L274.4 418.0L272.1 420.3L269.8 418.0Z" fill="#000" stroke="#000" stroke-width="0.9"/>
<path d="M283.4 409.7L285.7 412.0L283.4 414.3L281.1 412.0Z" fill="#000" stroke="#000" stroke-width="0.9"/>
<path d="M294.7 414.7L297.0 417.0L294.7 419.3L292.4 417.0Z" fill="#000" stroke="#000" stroke-width="0.9"/>
<path d="M306.0 415.7L308.3 418.0L306.0 420.3L303.7 418.0Z" fill="#000" stroke="#000" stroke-width="0.9"/>
<path d="M317.4 415.7L319.7 418.0L317.4 420.3L315.1 418.0Z" fill="#000" stroke="#000" stroke-width="0.9"/>
<path d="M328.7 416.3L331.0 418.6L328.7 420.9L326.4 418.6Z" fill="#000" stroke="#000" stroke-width="0.9"/>
<path d="M340.0 413.7L342.3 416.0L340.0 418.3L337.7 416.0Z" fill="#000" stroke="#000" stroke-width="0.9"/>
<rect x="236.2" y="415.7" width="3.8" height="3.8" fill="#000" stroke="#000" stroke-width="0.9"/>
<rect x="247.5" y="416.1" width="3.8" height="3.8" fill="#000" stroke="#000" stroke-width="0.9"/>
<rect x="258.8" y="413.1" width="3.8" height="3.8" fill="#000" stroke="#000" stroke-width="0.9"/>
<rect x="270.2" y="416.1" width="3.8" height="3.8" fill="#000" stroke="#000" stroke-width="0.9"/>
<rect x="281.5" y="415.1" width="3.8" height="3.8" fill="#000" stroke="#000" stroke-width="0.9"/>
<rect x="292.8" y="414.7" width="3.8" height="3.8" fill="#000" stroke="#000" stroke-width="0.9"/>
<rect x="304.1" y="415.1" width="3.8" height="3.8" fill="#000" stroke="#000" stroke-width="0.9"/>
<rect x="315.5" y="405.1" width="3.8" height="3.8" fill="#000" stroke="#000" stroke-width="0.9"/>
<rect x="326.8" y="408.1" width="3.8" height="3.8" fill="#000" stroke="#000" stroke-width="0.9"/>
<circle cx="238.1" cy="417.6" r="1.9" fill="#000" stroke="#000" stroke-width="0.9"/>
<circle cx="249.4" cy="418.0" r="1.9" fill="#000" stroke="#000" stroke-width="0.9"/>
<circle cx="260.7" cy="418.0" r="1.9" fill="#000" stroke="#000" stroke-width="0.9"/>
<circle cx="272.1" cy="418.0" r="1.9" fill="#000" stroke="#000" stroke-width="0.9"/>
<circle cx="283.4" cy="417.0" r="1.9" fill="#000" stroke="#000" stroke-width="0.9"/>
<circle cx="294.7" cy="417.0" r="1.9" fill="#000" stroke="#000" stroke-width="0.9"/>
<circle cx="306.0" cy="417.0" r="1.9" fill="#000" stroke="#000" stroke-width="0.9"/>
<circle cx="317.4" cy="416.0" r="1.9" fill="#000" stroke="#000" stroke-width="0.9"/>
<circle cx="328.7" cy="414.0" r="1.9" fill="#000" stroke="#000" stroke-width="0.9"/>
<circle cx="340.0" cy="413.4" r="1.9" fill="#000" stroke="#000" stroke-width="0.9"/>
<circle cx="238.1" cy="417.6" r="1.9" fill="#f4f4f4" stroke="#383838" stroke-width="1.1"/>
<circle cx="249.4" cy="418.0" r="1.9" fill="#f4f4f4" stroke="#383838" stroke-width="1.1"/>
<circle cx="260.7" cy="419.0" r="1.9" fill="#f4f4f4" stroke="#383838" stroke-width="1.1"/>
<circle cx="272.1" cy="418.0" r="1.9" fill="#f4f4f4" stroke="#383838" stroke-width="1.1"/>
<circle cx="283.4" cy="417.0" r="1.9" fill="#f4f4f4" stroke="#383838" stroke-width="1.1"/>
<circle cx="294.7" cy="416.0" r="1.9" fill="#f4f4f4" stroke="#383838" stroke-width="1.1"/>
<circle cx="306.0" cy="416.0" r="1.9" fill="#f4f4f4" stroke="#383838" stroke-width="1.1"/>
<circle cx="317.4" cy="415.0" r="1.9" fill="#f4f4f4" stroke="#383838" stroke-width="1.1"/>
<circle cx="328.7" cy="406.6" r="1.9" fill="#f4f4f4" stroke="#383838" stroke-width="1.1"/>
<path d="M238.1 415.3L240.4 417.6L238.1 419.9L235.8 417.6Z" fill="#e8e8e8" stroke="#383838" stroke-width="1.1"/>
<path d="M249.4 415.7L251.7 418.0L249.4 420.3L247.1 418.0Z" fill="#e8e8e8" stroke="#383838" stroke-width="1.1"/>
<path d="M260.7 415.7L263.0 418.0L260.7 420.3L258.4 418.0Z" fill="#e8e8e8" stroke="#383838" stroke-width="1.1"/>
<path d="M272.1 414.7L274.4 417.0L272.1 419.3L269.8 417.0Z" fill="#e8e8e8" stroke="#383838" stroke-width="1.1"/>
<path d="M283.4 413.7L285.7 416.0L283.4 418.3L281.1 416.0Z" fill="#e8e8e8" stroke="#383838" stroke-width="1.1"/>
<path d="M294.7 414.7L297.0 417.0L294.7 419.3L292.4 417.0Z" fill="#e8e8e8" stroke="#383838" stroke-width="1.1"/>
<path d="M306.0 414.7L308.3 417.0L306.0 419.3L303.7 417.0Z" fill="#e8e8e8" stroke="#383838" stroke-width="1.1"/>
<path d="M317.4 413.7L319.7 416.0L317.4 418.3L315.1 416.0Z" fill="#e8e8e8" stroke="#383838" stroke-width="1.1"/>
<path d="M328.7 404.7L331.0 407.0L328.7 409.3L326.4 407.0Z" fill="#e8e8e8" stroke="#383838" stroke-width="1.1"/>
<path d="M340.0 390.7L342.3 393.0L340.0 395.3L337.7 393.0Z" fill="#e8e8e8" stroke="#383838" stroke-width="1.1"/>
<circle cx="238.1" cy="417.6" r="1.9" fill="#d0d0d0" stroke="#383838" stroke-width="1.1"/>
<circle cx="249.4" cy="418.0" r="1.9" fill="#d0d0d0" stroke="#383838" stroke-width="1.1"/>
<circle cx="260.7" cy="419.4" r="1.9" fill="#d0d0d0" stroke="#383838" stroke-width="1.1"/>
<circle cx="272.1" cy="415.0" r="1.9" fill="#d0d0d0" stroke="#383838" stroke-width="1.1"/>
<circle cx="283.4" cy="415.0" r="1.9" fill="#d0d0d0" stroke="#383838" stroke-width="1.1"/>
<circle cx="294.7" cy="401.0" r="1.9" fill="#d0d0d0" stroke="#383838" stroke-width="1.1"/>
<circle cx="306.0" cy="415.0" r="1.9" fill="#d0d0d0" stroke="#383838" stroke-width="1.1"/>
<circle cx="317.4" cy="418.0" r="1.9" fill="#d0d0d0" stroke="#383838" stroke-width="1.1"/>
<circle cx="328.7" cy="400.0" r="1.9" fill="#d0d0d0" stroke="#383838" stroke-width="1.1"/>
<circle cx="340.0" cy="378.6" r="1.9" fill="#d0d0d0" stroke="#383838" stroke-width="1.1"/>
<rect x="236.2" y="415.7" width="3.8" height="3.8" fill="#d0d0d0" stroke="#383838" stroke-width="1.1"/>
<rect x="247.5" y="414.1" width="3.8" height="3.8" fill="#d0d0d0" stroke="#383838" stroke-width="1.1"/>
<rect x="258.8" y="416.1" width="3.8" height="3.8" fill="#d0d0d0" stroke="#383838" stroke-width="1.1"/>
<rect x="270.2" y="416.1" width="3.8" height="3.8" fill="#d0d0d0" stroke="#383838" stroke-width="1.1"/>
<rect x="281.5" y="403.5" width="3.8" height="3.8" fill="#d0d0d0" stroke="#383838" stroke-width="1.1"/>
<rect x="292.8" y="386.7" width="3.8" height="3.8" fill="#d0d0d0" stroke="#383838" stroke-width="1.1"/>
<rect x="304.1" y="394.7" width="3.8" height="3.8" fill="#d0d0d0" stroke="#383838" stroke-width="1.1"/>
<rect x="315.5" y="344.5" width="3.8" height="3.8" fill="#d0d0d0" stroke="#383838" stroke-width="1.1"/>
<rect x="326.8" y="398.1" width="3.8" height="3.8" fill="#d0d0d0" stroke="#383838" stroke-width="1.1"/>
<text x="279.8" y="436.3" font-size="7.5" font-weight="bold" text-anchor="middle" fill="#000" stroke="#000" stroke-width="0.25">Time (wk)</text>
<text transform="translate(187 380.3) rotate(-90)" font-size="7.5" font-weight="bold" text-anchor="middle" fill="#000" stroke="#000" stroke-width="0.25">TREC<tspan font-size="4.4" dy="-3.0">+</tspan><tspan dy="3.0"> </tspan>CD4 T cells</text>
<text transform="translate(197.5 381.7) rotate(-90)" font-size="7.5" font-weight="bold" text-anchor="middle" fill="#000" stroke="#000" stroke-width="0.25">(relative to week 6)</text>
</g>
<g>
<path d="M33.8 453.4V513.1H166" fill="none" stroke="#777" stroke-width="0.8"/>
<path d="M32.199999999999996 513.2H33.8" stroke="#777" stroke-width="0.6"/>
<text x="30.2" y="515.5" font-size="4.9" text-anchor="end" fill="#2a2a2a">0</text>
<path d="M32.199999999999996 504.7H33.8" stroke="#777" stroke-width="0.6"/>
<text x="30.2" y="506.9" font-size="4.9" text-anchor="end" fill="#2a2a2a">20</text>
<path d="M32.199999999999996 496.2H33.8" stroke="#777" stroke-width="0.6"/>
<text x="30.2" y="498.4" font-size="4.9" text-anchor="end" fill="#2a2a2a">40</text>
<path d="M32.199999999999996 487.7H33.8" stroke="#777" stroke-width="0.6"/>
<text x="30.2" y="489.9" font-size="4.9" text-anchor="end" fill="#2a2a2a">60</text>
<path d="M32.199999999999996 479.1H33.8" stroke="#777" stroke-width="0.6"/>
<text x="30.2" y="481.4" font-size="4.9" text-anchor="end" fill="#2a2a2a">80</text>
<path d="M32.199999999999996 470.6H33.8" stroke="#777" stroke-width="0.6"/>
<text x="30.2" y="472.9" font-size="4.9" text-anchor="end" fill="#2a2a2a">100</text>
<path d="M32.199999999999996 462.1H33.8" stroke="#777" stroke-width="0.6"/>
<text x="30.2" y="464.4" font-size="4.9" text-anchor="end" fill="#2a2a2a">120</text>
<path d="M32.199999999999996 453.6H33.8" stroke="#777" stroke-width="0.6"/>
<text x="30.2" y="455.9" font-size="4.9" text-anchor="end" fill="#2a2a2a">140</text>
<path d="M43.8 513.1v1.4" stroke="#777" stroke-width="0.5"/>
<text x="38.7" y="520.7" font-size="4.9" text-anchor="middle" fill="#2a2a2a">2</text>
<path d="M53.9 513.1v1.4" stroke="#777" stroke-width="0.5"/>
<text x="48.8" y="520.7" font-size="4.9" text-anchor="middle" fill="#2a2a2a">4</text>
<path d="M64.0 513.1v1.4" stroke="#777" stroke-width="0.5"/>
<text x="59.0" y="520.7" font-size="4.9" text-anchor="middle" fill="#2a2a2a">6</text>
<path d="M74.2 513.1v1.4" stroke="#777" stroke-width="0.5"/>
<text x="69.1" y="520.7" font-size="4.9" text-anchor="middle" fill="#2a2a2a">7</text>
<path d="M84.3 513.1v1.4" stroke="#777" stroke-width="0.5"/>
<text x="79.2" y="520.7" font-size="4.9" text-anchor="middle" fill="#2a2a2a">8</text>
<path d="M94.4 513.1v1.4" stroke="#777" stroke-width="0.5"/>
<text x="89.4" y="520.7" font-size="4.9" text-anchor="middle" fill="#2a2a2a">9</text>
<path d="M104.5 513.1v1.4" stroke="#777" stroke-width="0.5"/>
<text x="99.5" y="520.7" font-size="4.9" text-anchor="middle" fill="#2a2a2a">10</text>
<path d="M114.7 513.1v1.4" stroke="#777" stroke-width="0.5"/>
<text x="109.6" y="520.7" font-size="4.9" text-anchor="middle" fill="#2a2a2a">11</text>
<path d="M124.8 513.1v1.4" stroke="#777" stroke-width="0.5"/>
<text x="119.7" y="520.7" font-size="4.9" text-anchor="middle" fill="#2a2a2a">12</text>
<path d="M134.9 513.1v1.4" stroke="#777" stroke-width="0.5"/>
<text x="129.9" y="520.7" font-size="4.9" text-anchor="middle" fill="#2a2a2a">16</text>
<path d="M145.1 513.1v1.4" stroke="#777" stroke-width="0.5"/>
<text x="140.0" y="520.7" font-size="4.9" text-anchor="middle" fill="#2a2a2a">20</text>
<path d="M155.2 513.1v1.4" stroke="#777" stroke-width="0.5"/>
<text x="150.1" y="520.7" font-size="4.9" text-anchor="middle" fill="#2a2a2a">24</text>
<rect x="58.0" y="512.2" width="42.7" height="2.0" fill="#000"/>
<path d="M59.0 509.0L69.1 509.6L79.2 510.6L89.4 505.4L99.5 474.0L109.6 500.6L119.7 502.6L129.9 492.0L140.0 496.6" fill="none" stroke="#000" stroke-width="1.00" stroke-linejoin="round"/>
<path d="M48.8 513.0L59.0 512.6L69.1 512.6L79.2 512.0L89.4 512.6L99.5 511.6L109.6 506.0L119.7 507.4L129.9 509.6L140.0 502.0L150.1 511.0" fill="none" stroke="#a4a4a4" stroke-width="0.85" stroke-linejoin="round"/>
<path d="M38.7 512.6L48.8 511.0L59.0 509.0L69.1 509.6L79.2 510.6L89.4 505.4L99.5 496.0L109.6 475.0L119.7 478.6L129.9 462.6L140.0 481.0" fill="none" stroke="#a4a4a4" stroke-width="0.85" stroke-linejoin="round"/>
<rect x="97.6" y="472.1" width="3.8" height="3.8" fill="#000" stroke="#000" stroke-width="0.9"/>
<rect x="107.7" y="498.7" width="3.8" height="3.8" fill="#000" stroke="#000" stroke-width="0.9"/>
<rect x="117.8" y="500.7" width="3.8" height="3.8" fill="#000" stroke="#000" stroke-width="0.9"/>
<rect x="128.0" y="490.1" width="3.8" height="3.8" fill="#000" stroke="#000" stroke-width="0.9"/>
<rect x="138.1" y="494.7" width="3.8" height="3.8" fill="#000" stroke="#000" stroke-width="0.9"/>
<circle cx="48.8" cy="513.0" r="1.9" fill="#d0d0d0" stroke="#383838" stroke-width="1.1"/>
<circle cx="59.0" cy="512.6" r="1.9" fill="#d0d0d0" stroke="#383838" stroke-width="1.1"/>
<circle cx="69.1" cy="512.6" r="1.9" fill="#d0d0d0" stroke="#383838" stroke-width="1.1"/>
<circle cx="79.2" cy="512.0" r="1.9" fill="#d0d0d0" stroke="#383838" stroke-width="1.1"/>
<circle cx="89.4" cy="512.6" r="1.9" fill="#d0d0d0" stroke="#383838" stroke-width="1.1"/>
<circle cx="99.5" cy="511.6" r="1.9" fill="#d0d0d0" stroke="#383838" stroke-width="1.1"/>
<circle cx="109.6" cy="506.0" r="1.9" fill="#d0d0d0" stroke="#383838" stroke-width="1.1"/>
<circle cx="119.7" cy="507.4" r="1.9" fill="#d0d0d0" stroke="#383838" stroke-width="1.1"/>
<circle cx="129.9" cy="509.6" r="1.9" fill="#d0d0d0" stroke="#383838" stroke-width="1.1"/>
<circle cx="140.0" cy="502.0" r="1.9" fill="#d0d0d0" stroke="#383838" stroke-width="1.1"/>
<circle cx="150.1" cy="511.0" r="1.9" fill="#d0d0d0" stroke="#383838" stroke-width="1.1"/>
<rect x="36.8" y="510.7" width="3.8" height="3.8" fill="#d0d0d0" stroke="#383838" stroke-width="1.1"/>
<rect x="46.9" y="509.1" width="3.8" height="3.8" fill="#d0d0d0" stroke="#383838" stroke-width="1.1"/>
<rect x="57.1" y="507.1" width="3.8" height="3.8" fill="#d0d0d0" stroke="#383838" stroke-width="1.1"/>
<rect x="67.2" y="507.7" width="3.8" height="3.8" fill="#d0d0d0" stroke="#383838" stroke-width="1.1"/>
<rect x="77.3" y="508.7" width="3.8" height="3.8" fill="#d0d0d0" stroke="#383838" stroke-width="1.1"/>
<rect x="87.5" y="503.5" width="3.8" height="3.8" fill="#d0d0d0" stroke="#383838" stroke-width="1.1"/>
<rect x="97.6" y="494.1" width="3.8" height="3.8" fill="#d0d0d0" stroke="#383838" stroke-width="1.1"/>
<rect x="107.7" y="473.1" width="3.8" height="3.8" fill="#d0d0d0" stroke="#383838" stroke-width="1.1"/>
<rect x="117.8" y="476.7" width="3.8" height="3.8" fill="#d0d0d0" stroke="#383838" stroke-width="1.1"/>
<rect x="128.0" y="460.7" width="3.8" height="3.8" fill="#d0d0d0" stroke="#383838" stroke-width="1.1"/>
<rect x="138.1" y="479.1" width="3.8" height="3.8" fill="#d0d0d0" stroke="#383838" stroke-width="1.1"/>
<text x="101" y="528.3" font-size="7.5" font-weight="bold" text-anchor="middle" fill="#000" stroke="#000" stroke-width="0.25">Time (wk)</text>
<text transform="translate(7.3 483) rotate(-90)" font-size="7.5" font-weight="bold" text-anchor="middle" fill="#000" stroke="#000" stroke-width="0.25">YFP<tspan font-size="4.4" dy="-3.0">+</tspan><tspan dy="3.0"> </tspan>CD4 T cells</text>
<text transform="translate(17.5 485) rotate(-90)" font-size="7.5" font-weight="bold" text-anchor="middle" fill="#000" stroke="#000" stroke-width="0.25">(per µL)</text>
</g>
<g>
<path d="M210.5 452.3V512.4H345.2" fill="none" stroke="#777" stroke-width="0.8"/>
<path d="M208.9 512.4H210.5" stroke="#777" stroke-width="0.6"/>
<text x="206.9" y="514.7" font-size="4.9" text-anchor="end" fill="#2a2a2a">0</text>
<path d="M208.9 500.4H210.5" stroke="#777" stroke-width="0.6"/>
<text x="206.9" y="502.7" font-size="4.9" text-anchor="end" fill="#2a2a2a">5</text>
<path d="M208.9 488.4H210.5" stroke="#777" stroke-width="0.6"/>
<text x="206.9" y="490.7" font-size="4.9" text-anchor="end" fill="#2a2a2a">10</text>
<path d="M208.9 476.5H210.5" stroke="#777" stroke-width="0.6"/>
<text x="206.9" y="478.7" font-size="4.9" text-anchor="end" fill="#2a2a2a">15</text>
<path d="M208.9 464.5H210.5" stroke="#777" stroke-width="0.6"/>
<text x="206.9" y="466.7" font-size="4.9" text-anchor="end" fill="#2a2a2a">20</text>
<path d="M208.9 452.5H210.5" stroke="#777" stroke-width="0.6"/>
<text x="206.9" y="454.8" font-size="4.9" text-anchor="end" fill="#2a2a2a">25</text>
<path d="M221.1 512.4v1.4" stroke="#777" stroke-width="0.5"/>
<text x="215.4" y="519.9" font-size="4.9" text-anchor="middle" fill="#2a2a2a">2</text>
<path d="M232.4 512.4v1.4" stroke="#777" stroke-width="0.5"/>
<text x="226.7" y="519.9" font-size="4.9" text-anchor="middle" fill="#2a2a2a">4</text>
<path d="M243.7 512.4v1.4" stroke="#777" stroke-width="0.5"/>
<text x="238.1" y="519.9" font-size="4.9" text-anchor="middle" fill="#2a2a2a">6</text>
<path d="M255.1 512.4v1.4" stroke="#777" stroke-width="0.5"/>
<text x="249.4" y="519.9" font-size="4.9" text-anchor="middle" fill="#2a2a2a">7</text>
<path d="M266.4 512.4v1.4" stroke="#777" stroke-width="0.5"/>
<text x="260.7" y="519.9" font-size="4.9" text-anchor="middle" fill="#2a2a2a">8</text>
<path d="M277.7 512.4v1.4" stroke="#777" stroke-width="0.5"/>
<text x="272.1" y="519.9" font-size="4.9" text-anchor="middle" fill="#2a2a2a">9</text>
<path d="M289.0 512.4v1.4" stroke="#777" stroke-width="0.5"/>
<text x="283.4" y="519.9" font-size="4.9" text-anchor="middle" fill="#2a2a2a">10</text>
<path d="M300.4 512.4v1.4" stroke="#777" stroke-width="0.5"/>
<text x="294.7" y="519.9" font-size="4.9" text-anchor="middle" fill="#2a2a2a">11</text>
<path d="M311.7 512.4v1.4" stroke="#777" stroke-width="0.5"/>
<text x="306.0" y="519.9" font-size="4.9" text-anchor="middle" fill="#2a2a2a">12</text>
<path d="M323.0 512.4v1.4" stroke="#777" stroke-width="0.5"/>
<text x="317.4" y="519.9" font-size="4.9" text-anchor="middle" fill="#2a2a2a">16</text>
<path d="M334.4 512.4v1.4" stroke="#777" stroke-width="0.5"/>
<text x="328.7" y="519.9" font-size="4.9" text-anchor="middle" fill="#2a2a2a">20</text>
<path d="M345.7 512.4v1.4" stroke="#777" stroke-width="0.5"/>
<text x="340.0" y="519.9" font-size="4.9" text-anchor="middle" fill="#2a2a2a">24</text>
<rect x="237.1" y="511.5" width="47.5" height="2.0" fill="#000"/>
<path d="M238.1 509.6L249.4 510.0L260.7 508.0L272.1 502.6L283.4 461.4L294.7 496.0L306.0 499.0L317.4 484.6L328.7 490.4" fill="none" stroke="#000" stroke-width="1.00" stroke-linejoin="round"/>
<path d="M238.1 509.6L249.4 509.0L260.7 504.6L272.1 507.0L283.4 503.4L294.7 483.0L306.0 490.0L317.4 498.6L328.7 467.6L340.0 504.4" fill="none" stroke="#a4a4a4" stroke-width="0.85" stroke-linejoin="round"/>
<path d="M238.1 509.6L249.4 510.0L260.7 509.4L272.1 506.0L283.4 502.0L294.7 489.0L306.0 491.0L317.4 481.0L328.7 492.0" fill="none" stroke="#a4a4a4" stroke-width="0.85" stroke-linejoin="round"/>
<rect x="236.2" y="507.7" width="3.8" height="3.8" fill="#000" stroke="#000" stroke-width="0.9"/>
<rect x="247.5" y="508.1" width="3.8" height="3.8" fill="#000" stroke="#000" stroke-width="0.9"/>
<rect x="258.8" y="506.1" width="3.8" height="3.8" fill="#000" stroke="#000" stroke-width="0.9"/>
<rect x="270.2" y="500.7" width="3.8" height="3.8" fill="#000" stroke="#000" stroke-width="0.9"/>
<rect x="281.5" y="459.5" width="3.8" height="3.8" fill="#000" stroke="#000" stroke-width="0.9"/>
<rect x="292.8" y="494.1" width="3.8" height="3.8" fill="#000" stroke="#000" stroke-width="0.9"/>
<rect x="304.1" y="497.1" width="3.8" height="3.8" fill="#000" stroke="#000" stroke-width="0.9"/>
<rect x="315.5" y="482.7" width="3.8" height="3.8" fill="#000" stroke="#000" stroke-width="0.9"/>
<rect x="326.8" y="488.5" width="3.8" height="3.8" fill="#000" stroke="#000" stroke-width="0.9"/>
<circle cx="238.1" cy="509.6" r="1.9" fill="#d0d0d0" stroke="#383838" stroke-width="1.1"/>
<circle cx="249.4" cy="509.0" r="1.9" fill="#d0d0d0" stroke="#383838" stroke-width="1.1"/>
<circle cx="260.7" cy="504.6" r="1.9" fill="#d0d0d0" stroke="#383838" stroke-width="1.1"/>
<circle cx="272.1" cy="507.0" r="1.9" fill="#d0d0d0" stroke="#383838" stroke-width="1.1"/>
<circle cx="283.4" cy="503.4" r="1.9" fill="#d0d0d0" stroke="#383838" stroke-width="1.1"/>
<circle cx="294.7" cy="483.0" r="1.9" fill="#d0d0d0" stroke="#383838" stroke-width="1.1"/>
<circle cx="306.0" cy="490.0" r="1.9" fill="#d0d0d0" stroke="#383838" stroke-width="1.1"/>
<circle cx="317.4" cy="498.6" r="1.9" fill="#d0d0d0" stroke="#383838" stroke-width="1.1"/>
<circle cx="328.7" cy="467.6" r="1.9" fill="#d0d0d0" stroke="#383838" stroke-width="1.1"/>
<circle cx="340.0" cy="504.4" r="1.9" fill="#d0d0d0" stroke="#383838" stroke-width="1.1"/>
<rect x="236.2" y="507.7" width="3.8" height="3.8" fill="#d0d0d0" stroke="#383838" stroke-width="1.1"/>
<rect x="247.5" y="508.1" width="3.8" height="3.8" fill="#d0d0d0" stroke="#383838" stroke-width="1.1"/>
<rect x="258.8" y="507.5" width="3.8" height="3.8" fill="#d0d0d0" stroke="#383838" stroke-width="1.1"/>
<rect x="270.2" y="504.1" width="3.8" height="3.8" fill="#d0d0d0" stroke="#383838" stroke-width="1.1"/>
<rect x="281.5" y="500.1" width="3.8" height="3.8" fill="#d0d0d0" stroke="#383838" stroke-width="1.1"/>
<rect x="292.8" y="487.1" width="3.8" height="3.8" fill="#d0d0d0" stroke="#383838" stroke-width="1.1"/>
<rect x="304.1" y="489.1" width="3.8" height="3.8" fill="#d0d0d0" stroke="#383838" stroke-width="1.1"/>
<rect x="315.5" y="479.1" width="3.8" height="3.8" fill="#d0d0d0" stroke="#383838" stroke-width="1.1"/>
<rect x="326.8" y="490.1" width="3.8" height="3.8" fill="#d0d0d0" stroke="#383838" stroke-width="1.1"/>
<text x="279.8" y="527.9" font-size="7.5" font-weight="bold" text-anchor="middle" fill="#000" stroke="#000" stroke-width="0.25">Time (wk)</text>
<text transform="translate(187 482) rotate(-90)" font-size="7.5" font-weight="bold" text-anchor="middle" fill="#000" stroke="#000" stroke-width="0.25">YFP<tspan font-size="4.4" dy="-3.0">+</tspan><tspan dy="3.0"> </tspan>CD4 T cells</text>
<text transform="translate(197.5 484.4) rotate(-90)" font-size="7.5" font-weight="bold" text-anchor="middle" fill="#000" stroke="#000" stroke-width="0.25">(relative to week 6)</text>
</g>
<g>
<path d="M388.3 6.5V112.8H513" fill="none" stroke="#999" stroke-width="0.8"/>
<path d="M386.7 112.6H388.3" stroke="#999" stroke-width="0.6"/>
<text x="384.7" y="114.7" font-size="4.4" text-anchor="end" fill="#777">0</text>
<path d="M386.7 95.0H388.3" stroke="#999" stroke-width="0.6"/>
<text x="384.7" y="97.1" font-size="4.4" text-anchor="end" fill="#777">1</text>
<path d="M386.7 77.4H388.3" stroke="#999" stroke-width="0.6"/>
<text x="384.7" y="79.5" font-size="4.4" text-anchor="end" fill="#777">2</text>
<path d="M386.7 59.8H388.3" stroke="#999" stroke-width="0.6"/>
<text x="384.7" y="61.8" font-size="4.4" text-anchor="end" fill="#777">3</text>
<path d="M386.7 42.1H388.3" stroke="#999" stroke-width="0.6"/>
<text x="384.7" y="44.2" font-size="4.4" text-anchor="end" fill="#777">4</text>
<path d="M386.7 24.5H388.3" stroke="#999" stroke-width="0.6"/>
<text x="384.7" y="26.6" font-size="4.4" text-anchor="end" fill="#777">5</text>
<path d="M386.7 6.9H388.3" stroke="#999" stroke-width="0.6"/>
<text x="384.7" y="9.0" font-size="4.4" text-anchor="end" fill="#777">6</text>
<path d="M397.9 112.8v1.4" stroke="#999" stroke-width="0.5"/>
<text x="393.1" y="118.7" font-size="4.4" text-anchor="middle" fill="#333">2</text>
<path d="M407.4 112.8v1.4" stroke="#999" stroke-width="0.5"/>
<text x="402.6" y="118.7" font-size="4.4" text-anchor="middle" fill="#333">4</text>
<path d="M416.9 112.8v1.4" stroke="#999" stroke-width="0.5"/>
<text x="412.2" y="118.7" font-size="4.4" text-anchor="middle" fill="#333">6</text>
<path d="M426.5 112.8v1.4" stroke="#999" stroke-width="0.5"/>
<text x="421.7" y="118.7" font-size="4.4" text-anchor="middle" fill="#333">7</text>
<path d="M436.0 112.8v1.4" stroke="#999" stroke-width="0.5"/>
<text x="431.3" y="118.7" font-size="4.4" text-anchor="middle" fill="#333">8</text>
<path d="M445.6 112.8v1.4" stroke="#999" stroke-width="0.5"/>
<text x="440.8" y="118.7" font-size="4.4" text-anchor="middle" fill="#333">9</text>
<path d="M455.1 112.8v1.4" stroke="#999" stroke-width="0.5"/>
<text x="450.3" y="118.7" font-size="4.4" text-anchor="middle" fill="#333">10</text>
<path d="M464.6 112.8v1.4" stroke="#999" stroke-width="0.5"/>
<text x="459.9" y="118.7" font-size="4.4" text-anchor="middle" fill="#333">11</text>
<path d="M474.2 112.8v1.4" stroke="#999" stroke-width="0.5"/>
<text x="469.4" y="118.7" font-size="4.4" text-anchor="middle" fill="#333">12</text>
<path d="M483.7 112.8v1.4" stroke="#999" stroke-width="0.5"/>
<text x="479.0" y="118.7" font-size="4.4" text-anchor="middle" fill="#333">16</text>
<path d="M493.3 112.8v1.4" stroke="#999" stroke-width="0.5"/>
<text x="488.5" y="118.7" font-size="4.4" text-anchor="middle" fill="#333">20</text>
<path d="M502.8 112.8v1.4" stroke="#999" stroke-width="0.5"/>
<text x="498.0" y="118.7" font-size="4.4" text-anchor="middle" fill="#333">24</text>
<path d="M512.4 112.8v1.4" stroke="#999" stroke-width="0.5"/>
<text x="509.0" y="118.7" font-size="4.4" text-anchor="middle" fill="#333">Norm</text>
<rect x="411.2" y="112.1" width="40.4" height="1.6" fill="#000"/>
<path d="M412.2 107.0L421.7 112.0L431.3 112.0L440.8 112.0L450.3 111.5L459.9 111.0L469.4 110.5L479.0 109.7L488.5 111.4L498.0 103.3" fill="none" stroke="#000" stroke-width="0.80" stroke-linejoin="round"/>
<path d="M412.2 102.4L421.7 111.0L431.3 103.0L440.8 112.0L450.3 111.0L459.9 106.8L469.4 96.7L479.0 91.0L488.5 100.5L498.0 105.0" fill="none" stroke="#000" stroke-width="0.80" stroke-linejoin="round"/>
<path d="M412.2 105.0L421.7 112.0L431.3 112.0L440.8 112.0L450.3 112.0L459.9 111.5L469.4 111.0L479.0 110.5L488.5 102.8L498.0 105.7" fill="none" stroke="#000" stroke-width="0.80" stroke-linejoin="round"/>
<path d="M412.2 112.0L421.7 104.0L431.3 111.0L440.8 104.0L450.3 108.0L459.9 100.3L469.4 109.0L479.0 108.0L488.5 62.0L498.0 23.9" fill="none" stroke="#b4b4b4" stroke-width="0.68" stroke-linejoin="round"/>
<path d="M421.7 111.0L431.3 111.0L440.8 99.0L450.3 102.6L459.9 83.5L469.4 105.7L479.0 106.0L488.5 102.0L498.0 87.2" fill="none" stroke="#b4b4b4" stroke-width="0.68" stroke-linejoin="round"/>
<path d="M412.2 110.8L421.7 101.0L431.3 110.0L440.8 99.0L450.3 81.0L459.9 74.6L469.4 86.5L479.0 57.0L488.5 95.3L498.0 66.4" fill="none" stroke="#b4b4b4" stroke-width="0.68" stroke-linejoin="round"/>
<path d="M412.2 105.3L413.8 107.0L412.2 108.7L410.5 107.0Z" fill="#000" stroke="#000" stroke-width="0.648"/>
<path d="M421.7 110.3L423.4 112.0L421.7 113.7L420.1 112.0Z" fill="#000" stroke="#000" stroke-width="0.648"/>
<path d="M431.3 110.3L432.9 112.0L431.3 113.7L429.6 112.0Z" fill="#000" stroke="#000" stroke-width="0.648"/>
<path d="M440.8 110.3L442.5 112.0L440.8 113.7L439.1 112.0Z" fill="#000" stroke="#000" stroke-width="0.648"/>
<path d="M450.3 109.8L452.0 111.5L450.3 113.2L448.7 111.5Z" fill="#000" stroke="#000" stroke-width="0.648"/>
<path d="M459.9 109.3L461.5 111.0L459.9 112.7L458.2 111.0Z" fill="#000" stroke="#000" stroke-width="0.648"/>
<path d="M469.4 108.8L471.1 110.5L469.4 112.2L467.8 110.5Z" fill="#000" stroke="#000" stroke-width="0.648"/>
<path d="M479.0 108.0L480.6 109.7L479.0 111.4L477.3 109.7Z" fill="#000" stroke="#000" stroke-width="0.648"/>
<path d="M488.5 109.7L490.2 111.4L488.5 113.1L486.8 111.4Z" fill="#000" stroke="#000" stroke-width="0.648"/>
<path d="M498.0 101.6L499.7 103.3L498.0 105.0L496.4 103.3Z" fill="#000" stroke="#000" stroke-width="0.648"/>
<rect x="410.8" y="101.0" width="2.7" height="2.7" fill="#000" stroke="#000" stroke-width="0.648"/>
<rect x="420.4" y="109.6" width="2.7" height="2.7" fill="#000" stroke="#000" stroke-width="0.648"/>
<rect x="429.9" y="101.6" width="2.7" height="2.7" fill="#000" stroke="#000" stroke-width="0.648"/>
<rect x="439.4" y="110.6" width="2.7" height="2.7" fill="#000" stroke="#000" stroke-width="0.648"/>
<rect x="449.0" y="109.6" width="2.7" height="2.7" fill="#000" stroke="#000" stroke-width="0.648"/>
<rect x="458.5" y="105.4" width="2.7" height="2.7" fill="#000" stroke="#000" stroke-width="0.648"/>
<rect x="477.6" y="89.6" width="2.7" height="2.7" fill="#000" stroke="#000" stroke-width="0.648"/>
<rect x="487.1" y="99.1" width="2.7" height="2.7" fill="#000" stroke="#000" stroke-width="0.648"/>
<rect x="496.7" y="103.6" width="2.7" height="2.7" fill="#000" stroke="#000" stroke-width="0.648"/>
<circle cx="412.2" cy="105.0" r="1.3679999999999999" fill="#000" stroke="#000" stroke-width="0.648"/>
<circle cx="421.7" cy="112.0" r="1.3679999999999999" fill="#000" stroke="#000" stroke-width="0.648"/>
<circle cx="431.3" cy="112.0" r="1.3679999999999999" fill="#000" stroke="#000" stroke-width="0.648"/>
<circle cx="440.8" cy="112.0" r="1.3679999999999999" fill="#000" stroke="#000" stroke-width="0.648"/>
<circle cx="450.3" cy="112.0" r="1.3679999999999999" fill="#000" stroke="#000" stroke-width="0.648"/>
<circle cx="459.9" cy="111.5" r="1.3679999999999999" fill="#000" stroke="#000" stroke-width="0.648"/>
<circle cx="469.4" cy="111.0" r="1.3679999999999999" fill="#000" stroke="#000" stroke-width="0.648"/>
<circle cx="479.0" cy="110.5" r="1.3679999999999999" fill="#000" stroke="#000" stroke-width="0.648"/>
<circle cx="488.5" cy="102.8" r="1.3679999999999999" fill="#000" stroke="#000" stroke-width="0.648"/>
<circle cx="498.0" cy="105.7" r="1.3679999999999999" fill="#000" stroke="#000" stroke-width="0.648"/>
<path d="M421.7 102.3L423.4 104.0L421.7 105.7L420.1 104.0Z" fill="#d0d0d0" stroke="#383838" stroke-width="0.8"/>
<path d="M440.8 102.3L442.5 104.0L440.8 105.7L439.1 104.0Z" fill="#d0d0d0" stroke="#383838" stroke-width="0.8"/>
<path d="M450.3 106.3L452.0 108.0L450.3 109.7L448.7 108.0Z" fill="#d0d0d0" stroke="#383838" stroke-width="0.8"/>
<path d="M459.9 98.6L461.5 100.3L459.9 102.0L458.2 100.3Z" fill="#d0d0d0" stroke="#383838" stroke-width="0.8"/>
<path d="M469.4 107.3L471.1 109.0L469.4 110.7L467.8 109.0Z" fill="#d0d0d0" stroke="#383838" stroke-width="0.8"/>
<path d="M479.0 106.3L480.6 108.0L479.0 109.7L477.3 108.0Z" fill="#d0d0d0" stroke="#383838" stroke-width="0.8"/>
<path d="M488.5 60.3L490.2 62.0L488.5 63.7L486.8 62.0Z" fill="#d0d0d0" stroke="#383838" stroke-width="0.8"/>
<path d="M498.0 22.2L499.7 23.9L498.0 25.6L496.4 23.9Z" fill="#d0d0d0" stroke="#383838" stroke-width="0.8"/>
<circle cx="440.8" cy="99.0" r="1.3679999999999999" fill="#d0d0d0" stroke="#383838" stroke-width="0.8"/>
<circle cx="450.3" cy="102.6" r="1.3679999999999999" fill="#d0d0d0" stroke="#383838" stroke-width="0.8"/>
<circle cx="459.9" cy="83.5" r="1.3679999999999999" fill="#d0d0d0" stroke="#383838" stroke-width="0.8"/>
<circle cx="469.4" cy="105.7" r="1.3679999999999999" fill="#d0d0d0" stroke="#383838" stroke-width="0.8"/>
<circle cx="479.0" cy="106.0" r="1.3679999999999999" fill="#d0d0d0" stroke="#383838" stroke-width="0.8"/>
<circle cx="488.5" cy="102.0" r="1.3679999999999999" fill="#d0d0d0" stroke="#383838" stroke-width="0.8"/>
<circle cx="498.0" cy="87.2" r="1.3679999999999999" fill="#d0d0d0" stroke="#383838" stroke-width="0.8"/>
<rect x="410.8" y="109.4" width="2.7" height="2.7" fill="#d0d0d0" stroke="#383838" stroke-width="0.8"/>
<rect x="420.4" y="99.6" width="2.7" height="2.7" fill="#d0d0d0" stroke="#383838" stroke-width="0.8"/>
<rect x="429.9" y="108.6" width="2.7" height="2.7" fill="#d0d0d0" stroke="#383838" stroke-width="0.8"/>
<rect x="449.0" y="79.6" width="2.7" height="2.7" fill="#d0d0d0" stroke="#383838" stroke-width="0.8"/>
<rect x="458.5" y="73.2" width="2.7" height="2.7" fill="#d0d0d0" stroke="#383838" stroke-width="0.8"/>
<rect x="468.1" y="85.1" width="2.7" height="2.7" fill="#d0d0d0" stroke="#383838" stroke-width="0.8"/>
<rect x="477.6" y="55.6" width="2.7" height="2.7" fill="#d0d0d0" stroke="#383838" stroke-width="0.8"/>
<rect x="487.1" y="93.9" width="2.7" height="2.7" fill="#d0d0d0" stroke="#383838" stroke-width="0.8"/>
<rect x="496.7" y="65.0" width="2.7" height="2.7" fill="#d0d0d0" stroke="#383838" stroke-width="0.8"/>
<rect x="439.4" y="108.1" width="2.7" height="2.7" fill="#d0d0d0" stroke="#383838" stroke-width="0.8"/>
<rect x="468.1" y="95.3" width="2.7" height="2.7" fill="#d0d0d0" stroke="#383838" stroke-width="0.8"/>
<path d="M507.6 0.1L509.2 3.4L506.0 3.4Z" fill="#fff" stroke="#222" stroke-width="0.85" stroke-linejoin="round"/>
<rect x="506.3" y="2.7" width="2.6" height="2.6" fill="#fff" stroke="#222" stroke-width="0.85"/>
<path d="M507.6 20.2L509.2 23.5L506.0 23.5Z" fill="#fff" stroke="#222" stroke-width="0.85" stroke-linejoin="round"/>
<path d="M507.6 33.2L509.2 36.5L506.0 36.5Z" fill="#fff" stroke="#222" stroke-width="0.85" stroke-linejoin="round"/>
<path d="M507.6 84.5L509.2 87.8L506.0 87.8Z" fill="#fff" stroke="#222" stroke-width="0.85" stroke-linejoin="round"/>
<path d="M507.6 91.1L509.2 94.4L506.0 94.4Z" fill="#fff" stroke="#222" stroke-width="0.85" stroke-linejoin="round"/>
<text x="452.5" y="127" font-size="6.4" font-weight="bold" text-anchor="middle" fill="#000" stroke="#000" stroke-width="0.25">Time (wk)</text>
<text transform="translate(378 60.2) rotate(-90)" font-size="6.4" font-weight="bold" text-anchor="middle" fill="#000" stroke="#000" stroke-width="0.25">TREC<tspan font-size="4.2" dy="-2.4">+</tspan><tspan dy="2.4"> </tspan>CD4 T cells</text>
</g>
</svg>
</body></html>
